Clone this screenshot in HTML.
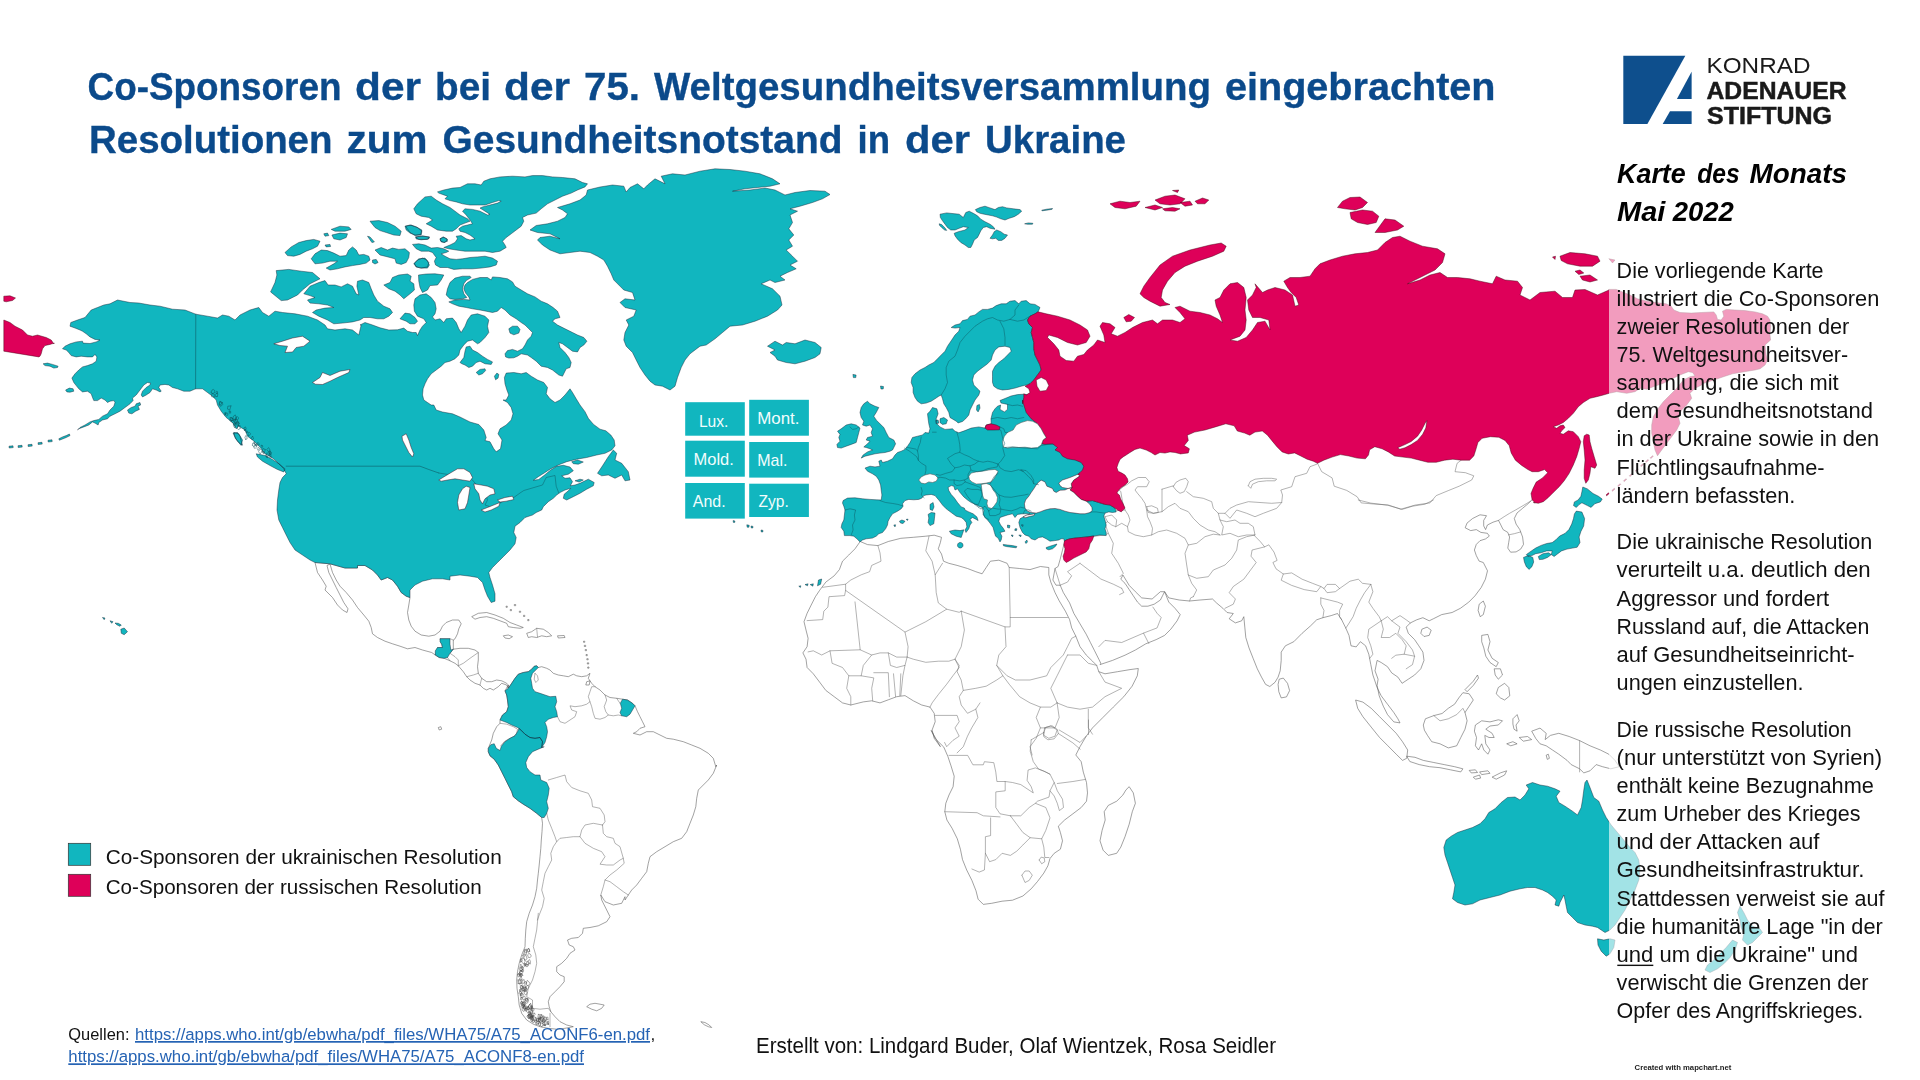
<!DOCTYPE html>
<html lang="de"><head><meta charset="utf-8"><title>Karte des Monats Mai 2022</title>
<style>
html,body{margin:0;padding:0;background:#fff;}
body{width:1920px;height:1080px;overflow:hidden;font-family:"Liberation Sans",sans-serif;}
svg{display:block;position:absolute;left:0;top:0;}
text{font-family:"Liberation Sans",sans-serif;}
</style></head><body>
<svg width="1920" height="1080" viewBox="0 0 1920 1080">
<rect width="1920" height="1080" fill="#fff"/>
<g id="map">
<path d="M315,562.5 330,563.8 345,568 357.5,568 357.5,565.5 365,565.5 372.5,570 377.5,575 381.2,580 387.5,577.5 392.5,580 397.5,586.2 401.2,592.5 406.2,596.2 410,597.5 408.8,605 407.5,612.5 408.8,620 411.2,626.2 415,631.2 421.2,635 428.8,636.2 435,635 440,631.2 442.5,626.2 446.2,622.5 452.5,620 458.8,620 461.2,623.8 458.8,628.8 457.5,633.8 455,638.8 453.3,640 453.3,649.2 460,648.3 468.3,648.3 475,650 478.3,652.5 478.3,660 477.5,666.7 478.3,673.3 481.7,678.3 486.7,681.7 491.7,681.7 496.7,680 501.7,680.8 506.7,683.3 508.3,685 508.3,688.3 506.7,685 501.7,683.3 498.3,686.7 493.3,690 490,688.3 486.7,690 483.3,688.3 480,685 475,683.3 470,680 466.7,676.7 463.3,671.7 458.3,665.8 455,663.3 450,660.8 444.2,658.3 439.2,657.5 435.3,655 431.7,652.5 422.5,650 415,647.5 407.5,648.8 400,646.2 392.5,643.8 385,641.2 377.5,637.5 372.5,633.8 371.2,627.5 368.8,621.2 363.8,615 357.5,607.5 352.5,600 346.2,592.5 340,586.2 336.2,580 332.5,572.5 330,564 327,565.5 328.8,572.5 332.5,580 336.2,587.5 340,595 343.8,602.5 348,608.8 347,612.5 342.5,610 337.5,605 332.5,597.5 325,590 326.2,586.2 322.5,580 317.5,572.5ZM471.7,616.7 478.3,613.3 486.7,612.5 495,615 503.3,618.3 510,622.5 516.7,625 523.3,627.5 520,628.3 513.3,627.5 508.3,626.7 506.7,623.3 500,620.8 493.3,618.3 486.7,616.7 480,617.5 475,619.2ZM526.7,633.3 531.7,631.7 536.7,628.3 543.3,629.2 548.3,632.5 551.7,635.8 546.7,636.7 541.7,635.8 536.7,637.5 531.7,636.7 528.3,637.5ZM503.3,635.8 508.3,635 512.5,636.7 509.2,638.7 505,638ZM557.5,635.8 564.2,635.5 565,637.5 558.3,638ZM586.7,681.7 590,680.8 589.2,685 585.8,685ZM583.5,641.2 584.8,641.2 584.8,642.3 583.5,642.3ZM584.3,645.3 585.7,645.3 585.7,646.5 584.3,646.5ZM585.2,649.5 586.5,649.5 586.5,650.7 585.2,650.7ZM586,654.5 587.3,654.5 587.3,655.7 586,655.7ZM586.8,658.7 588.2,658.7 588.2,659.8 586.8,659.8ZM587.3,662.8 588.7,662.8 588.7,664 587.3,664ZM587.7,667 589,667 589,668.2 587.7,668.2ZM506,606.2 507.3,606.2 507.3,607.3 506,607.3ZM510.2,609.5 511.5,609.5 511.5,610.7 510.2,610.7ZM514.3,604.5 515.7,604.5 515.7,605.7 514.3,605.7ZM519.3,611.2 520.7,611.2 520.7,612.3 519.3,612.3ZM523.5,615.3 524.8,615.3 524.8,616.5 523.5,616.5ZM527.7,619.5 529,619.5 529,620.7 527.7,620.7ZM508.3,685 508.3,688.3 511.7,683.3 515,678.3 518.3,674.2 523.3,672.5 528.3,671.7 531.7,669.2 534.2,666.3 536.7,665.8 538.3,667.5 541.7,666.7 546.7,668.3 550,670 553.3,673.3 558.3,675 563.3,675.8 568.3,676.7 573.3,674.2 576.7,675.8 581.7,676.7 586.7,675.8 590,673.3 588.3,678.3 591.7,683.3 595,686.7 600,690 605,695 610,697.5 616.7,698.3 622.5,699.2 627.5,700 632.5,703.3 635,705.8 637.5,711.7 640,716.7 642.5,721.7 645,726.7 640,728.3 636.7,731.7 633.3,733.3 640,735 646.7,731.7 653.3,731.7 660,735 666.7,738.3 673.3,739.2 683.3,741.7 691.7,745 700,748.3 708.3,753.3 713.3,758.3 715.8,766.7 716.7,765 713.3,773.3 708.3,780 703.3,785 698.3,790 696.7,798.3 695.8,806.7 693.3,815 690,823.3 686.7,831.7 681.7,838.3 673.3,841.7 665,846.7 656.7,851.7 650,856.7 648.3,863.3 646.7,871.7 641.7,878.3 636.7,885 631.7,890 628.3,895 625,900 625,896.7 621.7,903.3 613.3,905 605,901.7 600.8,895 601.7,900 604.2,905 606.7,910 610,916.7 606.7,921.7 598.3,925.8 590,927.5 583.3,928.3 582.5,933.3 578.3,937.5 571.7,938.3 567.5,940 569.2,945 573.3,946.7 575,950 570,953.3 566.7,958.3 561.7,963.3 556.7,966.7 556.7,971.7 560,975 564.2,976.7 564.2,981.7 560,986.7 555,991.7 550,996.7 548.3,1001.7 549.2,1006.7 550.8,1011.7 555,1016.7 560,1021.7 566.7,1025 573.3,1026.7 565,1028.3 556.7,1029.2 548.3,1028.3 540,1026.7 533.3,1024.2 526.7,1020 521.7,1013.3 519.2,1005 518.3,996.7 517,988.3 516.7,980 517.5,971.7 519.2,963.3 521.7,955 525,946.7 525.3,938.3 525.8,930 526.7,921.7 529.2,913.3 532.5,905 535,896.7 536.7,888.3 537.5,880 538.3,873.3 539.2,865 540,856.7 540.8,848.3 541.3,840 542,831.7 542.5,823.3 541.7,817.5 536.7,813.3 530,808.3 523.3,804.2 518.3,800.8 513.3,796.7 511.7,791.7 508.3,785 505,778.3 501.7,771.7 498.3,765 494.2,759.2 490,755.8 488.3,751.7 488.3,748.3 491.7,740 493.3,733.3 496.7,726.7 500,723.3 500,720 502.5,715 506.7,711.7 508.3,706.7 507.5,700 506.7,695 505,690.8ZM586.7,1006.7 590,1004.2 595,1003.3 600,1004.2 604.2,1005 601.7,1008.3 596.7,1010.8 591.7,1009.2ZM700.8,1021.7 705,1022.5 709.2,1025 711.7,1027.5 708.3,1026.7 704.2,1024.7ZM438.3,727.5 440.8,726.7 441.7,729.2 439.2,730ZM860.2,541.5 867.5,544.6 877.9,545.6 888.3,541.5 900.8,538.3 913.3,537.3 925.8,536.2 934.2,535.2 941.5,537.3 940.4,542.5 938.3,548.8 941.5,554 943.5,561.2 948.8,563.3 957.1,565.4 967.5,568.5 975.8,571.7 982.1,573.8 986.2,567.5 990.4,561.2 998.8,560.2 1007.1,563.3 1009.2,567.5 1019.6,568.5 1030,569.6 1040.4,566.5 1048.8,567.5 1048.8,574.8 1050.8,582.1 1055,592.5 1059.2,600.8 1065.4,611.2 1069.6,619.6 1071.7,627.9 1075.8,636.2 1080,646.7 1086.2,655 1092.5,661.2 1096.7,665.4 1098.8,671.7 1105,673.8 1117.5,671.7 1130,669.6 1138.3,668.5 1137.3,675.8 1132.1,686.2 1123.8,696.7 1113.3,707.1 1102.9,717.5 1092.5,727.9 1086.2,736.2 1080,746.7 1075.8,755 1081.2,761.7 1083.3,772.1 1086.5,782.5 1087.5,792.9 1086.5,801.2 1081.2,807.5 1072.9,813.8 1064.6,820 1058.3,826.2 1060.4,832.5 1062.5,840.8 1060.4,849.2 1054.2,853.3 1050,858.5 1047.9,865.8 1043.8,873.1 1037.5,881.5 1031.2,888.8 1022.9,896 1012.5,900.2 1002.1,901.2 991.7,903.3 983.3,904.4 978.1,899.2 976,890.8 971.9,880.4 966.7,870 962.5,859.6 960.4,849.2 957.3,838.8 952.1,828.3 946.9,820 944.8,811.7 945.8,803.3 949,795 953.1,786.7 954.2,776.2 951,765.8 947.9,756.5 943.8,747.1 935.4,738.8 931.2,730.4 940.4,746.7 934.2,738.3 932.1,730 935.2,721.7 934.2,713.3 930,707.1 921.7,705 913.3,700.8 905,695.6 896.7,696.7 888.3,699.8 880,702.9 871.7,700.8 863.3,701.9 850.8,705 842.5,702.9 834.2,696.7 825.8,690.4 819.6,682.1 813.3,673.8 807.1,667.5 806,659.2 802.9,652.9 807.1,646.7 808.1,638.3 806,630 804,621.7 807.1,613.3 811.2,605 815.4,596.7 819.6,590.4 825.8,582.1 834.2,575.8 839.4,569.6 842.5,561.2 848.8,555 855,548.8ZM1129.2,786.7 1133.3,792.9 1135.4,803.3 1132.3,811.7 1129.2,824.2 1125,836.7 1120.8,847.1 1116.7,853.3 1108.3,855.4 1103.1,850.2 1100,840.8 1102.1,830.4 1105.2,820 1104.2,811.7 1108.3,805.4 1116.7,801.2 1122.9,795 1126,789.8ZM1064.4,532.1 1065.4,536.2 1064.4,542.5 1062.3,550.8 1060.2,559.2 1058.1,566.5 1055,568.5 1052.9,580 1056,585.2 1060.2,585.2 1063.3,592.5 1069.6,602.9 1073.8,613.3 1080,623.8 1086.2,634.2 1090.4,642.5 1094.6,650.8 1098.8,659.2 1100.8,663.3 1100,664.6 1112.5,660.4 1125,655.2 1135.4,650 1145.8,643.8 1156.2,639.6 1164.6,635.4 1170.8,629.2 1177.1,620.8 1180.2,614.6 1175,608.3 1168.8,602.1 1164.6,591.7 1162.5,595.8 1160.4,600 1154.2,604.2 1147.9,606.2 1141.7,606.2 1137.5,602.1 1133.3,595.8 1129.2,589.6 1125,583.3 1120.8,579.2 1122.9,575 1129.2,585.4 1135.4,591.7 1141.7,597.9 1152.1,599 1160.4,591.7 1164.6,591.7 1168.8,597.9 1179.2,600 1189.6,601 1200,600 1212.5,599 1216.7,603.1 1222.9,608.3 1227.1,612.5 1233.3,613.5 1229.2,618.8 1235.4,622.9 1241.7,620.8 1243.8,616.7 1244.8,627.1 1245.8,637.5 1249,647.9 1253.1,658.3 1257.3,668.8 1261.5,677.1 1265.6,684.4 1269.8,686.5 1275,682.3 1278.1,677.1 1280.2,670.8 1281.2,660.4 1281.2,652.1 1285.4,645.8 1293.8,641.7 1302.1,633.3 1310.4,626 1316.7,619.8 1322.9,617.7 1331.2,615.6 1337.5,613.5 1341.7,619.8 1345.8,628.1 1349,635.4 1351,645.8 1356.2,646.9 1360.4,641.7 1365.6,645.8 1368.8,654.2 1370.8,664.6 1372.9,675 1377.1,687.5 1381.2,695.8 1387.5,704.2 1393.8,712.5 1397.9,718.8 1400,722.9 1393.8,721.9 1387.5,714.6 1383.3,706.2 1379.2,695.8 1377.1,685.4 1378.1,679.2 1375,670.8 1377.1,660.4 1381.2,662.5 1387.5,666.7 1391.7,672.9 1397.9,677.1 1402.1,683.3 1408.3,679.2 1414.6,675 1420.8,668.8 1424,660.4 1422.9,652.1 1418.8,645.8 1414.6,639.6 1408.3,633.3 1406.2,627.1 1410.4,622.9 1416.7,619.8 1422.9,617.7 1429.2,620.8 1433.3,618.8 1441.7,614.6 1452.1,612.5 1460.4,608.3 1468.8,602.1 1475,595.8 1481.2,587.5 1485.4,579.2 1487.5,570.8 1483.3,562.5 1479.1,561.1 1476.3,555.6 1474.4,550 1476.3,544.4 1480,540.7 1485.6,538.9 1489.3,536.1 1487.4,533.3 1480.9,532.4 1476.3,529.6 1470.7,530.6 1465.2,527.8 1467,523.1 1472.6,518.5 1480,514.8 1486.5,515.7 1483.7,520.4 1483.7,525.9 1485.6,529.6 1487.4,525 1493,522.2 1498.5,520.4 1500.4,524.1 1503.1,529.6 1507.8,532.4 1509.6,537 1508.7,542.6 1507.8,548.1 1510.6,552.2 1516.1,551.9 1520.7,549.1 1523.5,544.4 1522.6,537 1519.8,529.6 1516.1,524.1 1514.3,518.5 1517,513 1522.6,508.3 1528.1,503.7 1531.9,500 1540,495 1552,470 1540,455 1515,440 1500,425 1300,395 1150,400 1095,465 1092,492 1075,520ZM1279.2,679.2 1283.3,678.1 1287.5,683.3 1289.6,690.6 1286.5,696.9 1281.2,697.9 1278.8,691.7 1278.1,684.4ZM1421.9,629.2 1427.1,627.1 1431.2,630.2 1429.2,635.4 1424,636.5 1420.8,633.3ZM1479.2,604.2 1483.3,601 1485.4,606.2 1483.3,614.6 1480.2,616.7 1478.1,610.4ZM1355.6,700 1362.9,702.1 1371.2,708.3 1379.6,716.7 1387.9,725 1396.2,733.3 1402.5,741.7 1407.7,750 1406.7,758.3 1402.5,760.4 1396.2,754.2 1387.9,745.8 1379.6,737.5 1371.2,727.1 1362.9,716.7 1357.7,708.3ZM1423.3,725 1425.4,718.8 1433.8,715.6 1442.1,713.5 1448.3,708.3 1454.6,704.2 1458.8,697.9 1462.9,692.7 1469.2,693.8 1473.3,700 1469.2,706.2 1465,712.5 1467.1,720.8 1465,729.2 1460.8,737.5 1456.7,745.8 1448.3,747.9 1440,743.8 1431.7,741.7 1427.5,735.4 1424.4,730.2ZM1406.7,756.2 1415,757.3 1423.3,760.4 1433.8,762.5 1444.2,764.6 1454.6,766.7 1462.9,768.8 1460.8,771.9 1450.4,769.8 1440,767.7 1429.6,766.7 1419.2,764.6 1409.8,761.5ZM1469.2,770.4 1475.4,769.8 1477.5,772.5 1471.2,772.9ZM1479.6,771.9 1487.9,770.8 1490,773.3 1481.7,774.6ZM1473.3,777.1 1479.6,775 1480.6,778.1 1475.4,779.2ZM1492.1,777.1 1500.4,772.9 1506.7,770.8 1504.6,775 1496.2,779.2ZM1512.9,718.8 1517.1,714.6 1519.2,720.8 1516,725 1517.1,731.2 1514,729.2 1512.9,724ZM1494.2,668.8 1500.4,668.8 1502.5,675 1498.3,679.2 1495.2,675ZM1465,689.6 1473.3,681.2 1477.5,675 1478.5,678.1 1473.3,685.4 1467.1,691.7ZM1519.2,737.5 1527.5,736.5 1531.7,739.6 1523.3,741.2ZM1506.7,743.8 1512.9,741.7 1517.1,743.8 1510.8,745.8ZM1546.2,755.2 1548.3,754.2 1549.4,758.3 1547.3,759.4ZM1475.4,725 1481.7,720.8 1490,721.9 1498.3,719.8 1502.5,720.8 1498.3,725 1490,726 1485.8,729.2 1492.1,733.3 1494.2,737.5 1489,737.5 1484.8,735.4 1485.8,743.8 1490,750 1487.9,754.2 1483.8,750 1481.7,743.8 1478.5,750 1475.4,745.8 1476.5,737.5 1474.4,731.2ZM1531.7,731.2 1540,728.1 1546.2,733.3 1545.2,739.6 1550.4,735.4 1558.8,733.3 1569.2,736.5 1579.6,740.6 1590,745.8 1600.4,750 1608.8,754.2 1615,760.4 1619.2,766.7 1610.8,768.8 1602.5,766.7 1596.2,764.6 1590,770.8 1583.8,772.9 1579.6,768.8 1571.2,764.6 1567.1,760.4 1558.8,754.2 1552.5,750 1546.2,745.8 1540,743.8 1535.8,738.5ZM1481.7,635.4 1487.9,634.4 1490,641.7 1487.9,650 1492.1,658.3 1498.3,662.5 1496.2,666.7 1490,662.5 1485.8,656.2 1483.8,647.9 1481.7,641.7ZM1498.3,687.5 1504.6,683.3 1508.8,687.5 1509.8,695.8 1504.6,700 1500.4,697.9 1496.2,693.8Z" fill="#fff" stroke="#555" stroke-width="0.55" stroke-linejoin="round"/>
<path d="M435.3,655 437.5,647.5 442.5,647.5 440,638.7 450,638.7 453.3,640M453.3,649.2 450,653.3 455,656.7 458.3,660 458.3,665.8M447.5,657.5 450,660.8M458.3,665.8 463.3,663.3 470,658.3 478.3,652.5M466.7,676.7 473.3,675 478.3,673.3M480,685 481.7,678.3M536.7,628.3 537.5,637M557.5,716.7 560,721.7 565,723.3 570,720 575,716.7 576.7,711.7 571.7,710 570,705.8 575,706.7 581.7,705.8 586.7,704.2 590,701.7 588.3,696.7 590,691.7 591.7,686.7 595,686.7M590,701.7 591.7,706.7 593.3,713.3 595,718.3 600,719.2 605,717.5 608.3,715 613.3,715.8 618.3,715 621.7,715.8M605,695 606.7,700 604.2,706.7 605.8,711.7 608.3,715M616.7,698.3 620,703.3M500,723.3 506.7,724.2 513.3,726.7 517.5,729.2 516.7,733.3 513.3,736.7 508.3,739.2 504.2,741.7 500.8,745.8M535,673.3 537.5,675.8 538.3,680 535.8,682.5 534.2,679.2 535,673.3M546.7,813.3 548.3,820 551.7,828.3 555,836.7 556.7,841.7 553.3,846.7 550.8,853.3 551.7,860 548.3,866.7 545,873.3 543.3,881.7 541.7,890 544.2,898.3 542.5,906.7 539.2,915 537.5,920M538.3,913.3 537.5,921.7 536.7,930 535,938.3 533.3,946.7 535.8,955 536.7,963.3 535,971.7 532.5,980 528.3,988.3 526.7,996.7 532.5,1000 532.5,1008.3 540,1009.2 548.3,1008.3 550.8,1011.7M550,1013.3 550,1026.7M548.3,780 556.7,777.5 565,775 566.7,781.7 571.7,787.5 580,790.8 588.3,793.3 591.7,800 592.5,806.7 600,808.3 604.2,815 605,821.7 602.5,825M556.7,841.7 560,838.3 566.7,837.5 573.3,836.7 580,836.7 581.7,830 585,825 593.3,823.3 602.5,825M580,836.7 585,843.3 593.3,848.3 601.7,851.7 605,856.7 600,864.2 606.7,865 613.3,865 620,860 623.3,858.3 620,846.7 615,843.3 613.3,838.3 606.7,836.7 603.3,833.3 602.5,825M623.3,858.3 624.2,863.3 616.7,870 610,875 605,880 603.3,886.7 600.8,895M605,880 610,881.7 616.7,886.7 623.3,891.7 628.3,895M877.9,545.6 880,552.9 881,561.2 871.7,565.4 869.6,571.7 861.2,574.8 850.8,580 845.6,584.2 845.6,590.4 905,632.1 909.2,630 925.8,621.7 946.7,609.2 959.2,612.3 961.2,611.2M845.6,584.2 822.7,587.3M845.6,590.4 844.6,595.6 829,596.7 827.9,607.1 823.8,611.2 822.7,619.6 807.1,620.6M855,601.9 860.2,649.8 830,650.8 821.7,655 813.3,650.8 808.1,651.9M935.2,574.8 936.2,592.5 938.3,602.9 946.7,609.2M929,536.2 925.8,550.8 932.1,561.2 935.2,574.8 942.5,563.3M1009.2,567.5 1010.2,617.5 1067.5,617.5M1010.2,617.5 1010.2,626.9 1005,626.9 961.2,611.2M1005,626.9 1006,646.7 998.8,655 996.7,665.4 1002.9,675.8 996.7,680 986.2,686.2 975.8,688.3 963.3,690.4 961.2,680 957.1,671.7 959.2,665.4 955,659.2 961.2,646.7 964.4,630 961.2,611.2M905,632.1 908.1,646.7 907.1,657.1 913.3,659.2 925.8,662.3 938.3,661.2 948.8,661.2 955,659.2M860.2,649.8 871.7,655 880,652.9 888.3,652.9 896.7,657.1 907.1,657.1M830,650.8 832.1,663.3 842.5,667.5 848.8,675.8 861.2,675.8 863.3,665.4 871.7,655M848.8,675.8 846.7,688.3 850.8,696.7 850.8,705M861.2,675.8 873.8,677.9 871.7,688.3 872.7,700.8M873.8,672.7 888.3,672.7 889.4,696.7M893.5,673.8 895.6,696.7M900.8,673.8 899.8,695.6M888.3,652.9 890.4,665.4 896.7,667.5 905,665.4 907.1,657.1M905,665.4 902.9,675.8 900.8,695.6M955,659.2 959.2,667.5 952.9,675.8 946.7,684.2 938.3,694.6 932.1,702.9 930,707.1M963.3,690.4 959.2,696.7 961.2,705 967.5,713.3 975.8,709.2 980,702.9M935.2,715.4 957.1,715.4 959.2,721.7 955,727.9 959.2,736.2 952.9,740.4 946.7,746.7 944.6,742.5M975.8,709.2 977.9,717.5 971.7,727.9 967.5,736.2 963.3,746.7 957.1,752.9M1002.9,675.8 1009.2,684.2 1019.6,696.7 1030,702.9 1040.4,707.1 1050.8,707.1 1057.1,702.9M996.7,665.4 1007.1,675.8 1015.4,680 1030,680 1046.7,675.8 1050.8,667.5 1063.3,655 1067.5,646.7 1071.7,638.3 1075.8,636.2M1067.5,655 1080,655 1088.3,663.3 1096.7,665.4M1057.1,702.9 1050.8,688.3 1057.1,675.8 1067.5,655M1057.1,702.9 1067.5,707.1 1080,709.2 1092.5,707.1 1105,696.7 1121.7,688.3 1105,682.1 1098.8,671.7M1088.3,709.2 1088.3,727.9 1092.5,734.2M1057.1,702.9 1059.2,717.5 1055,727.9 1040.4,727.9M1040.4,707.1 1036.2,717.5 1040.4,727.9 1036.2,738.3 1030,746.7 1032.1,755M1044.6,727.9 1050.8,725.8 1057.1,730 1055,736.2 1048.8,738.3 1043.5,735.2 1044.6,727.9M1059.2,730 1080,742.5 1086.2,736.2M949,755.4 967.7,755.4 972.9,764.8 983.3,764.8 984.4,761.7 993.8,762.7 995.8,772.1 996.9,781.5 1005.2,781.5 1005.2,790.8 995.8,791.9 995.8,807.5 1000,813.8 1010.4,815.8M944.8,811.7 977.1,812.7 983.3,815.8 1000,816.9M990.6,817.9 990.6,835.6 985.4,836.7 985.4,853.3 984.4,870 979.2,872.1 971.9,869M1010.4,815.8 1016.7,824.2 1022.9,832.5 1030.2,837.7 1022.9,845 1016.7,851.2 1010.4,855.4 1002.1,853.3 995.8,859.6 989.6,861.7 985.4,853.3M1010.4,815.8 1020.8,815.8 1029.2,807.5 1035.4,803.3 1045.8,807.5 1050,817.9 1045.8,830.4 1041.7,838.8 1030.2,837.7M1005.2,781.5 1012.5,782.5 1020.8,784.6 1027.1,788.8 1033.3,792.9 1031.2,786.7 1027.1,780.4 1028.1,770 1035.4,767.9 1043.8,771 1050,774.2 1054.2,782.5 1050,790.8 1049,797.1 1037.5,801.2 1035.4,803.3M1057.3,783.5 1072.9,781.5 1085.4,779.4M1054.2,782.5 1057.3,790.8 1062.5,799.2 1063.5,807.5 1059.4,810.6 1057.3,803.3 1054.2,796 1050,790.8M1041.7,838.8 1043.8,847.1 1044.8,857.5 1049,857.5M1021.9,875.2 1025,871 1029.2,871 1032.3,875.2 1029.2,880.4 1025,882.5 1021.9,875.2M1039.2,860 1041.2,857.1 1044.2,857.9 1044.8,861.7 1041.7,863.8 1039.2,860M1031.2,739.8 1043.8,732.5M1058.3,733.5 1072.9,742.9 1080.2,749.2M1031.2,739.8 1030.2,751.2 1033.3,761.7 1038.5,769 1045.8,772.1 1050,774.2M1088.5,720 1088.5,734.6M1043.8,732.5 1045.8,727.3 1052.1,725.8 1057.3,729.4 1058.3,733.5 1054.2,738.8 1047.9,739.8 1043.8,736.7 1043.8,732.5M1119.2,490 1123.3,486.7 1127.5,484.2 1131.7,480.8 1138.3,477.5 1145.8,477.5 1149.2,481.7 1146.7,486.7 1137.5,486.7 1135,490 1137.5,493.3 1141.7,498.3 1145,503.3 1146.7,510 1147.5,516.7 1150,521.7 1152.5,528.3 1151.7,535 1143.3,536.7 1135,535 1128.3,531.7 1127.5,526.7 1130,520 1128.3,515 1125,510 1122.5,501.7 1120.8,491.7 1119.2,490M1146.7,506.7 1151.7,505.8 1157.5,508.3 1158.3,512.5 1153.3,513.3 1148.3,512.5 1146.7,506.7M1248.3,485.8 1250,481.7 1255,479.2 1263.3,478.3 1271.7,478.3 1276.7,479.2 1275,480.8 1266.7,480.8 1258.3,481.7 1252.5,484.2 1250.8,488.3 1248.3,485.8M1173.3,486.7 1175.8,482.5 1180,480 1185.8,478.3 1188.3,481.7 1186.7,486.7 1184.2,491.7 1180,493.3 1176.7,490.8 1173.3,486.7M1162,489.2 1162,511.7M1162,489.2 1173.3,485.8M1186.7,491.7 1193.3,496.7 1203.3,498.3 1211.7,501.7 1213.3,508.3 1218.3,513.3 1225,513.3 1230,508.3 1236.7,505 1248.3,501.7 1260,502.5 1271.7,503.3 1281.7,502.5 1282.5,495 1280.8,490 1291.7,486.7 1295,476.7 1306.7,473.3 1310,466.7 1316.7,464.2M1146.7,510 1153.3,513.3 1162,511.7 1168.3,506.7 1175,503.3 1180,508.3 1188.3,511.7 1193.3,518.3 1200,525 1208.3,530 1215,531.7 1220,535M1151.7,535 1158.3,531.7 1166.7,530 1176.7,533.3 1185,538.3 1188.3,545 1196.7,543.3 1205,536.7 1213.3,534.2 1220,535M1225,513.3 1230,518.3 1236.7,510 1246.7,513.3 1255,516.7 1263.3,513.3 1276.7,508.3 1281.7,502.5M1220,520 1223.3,526.7 1221.7,535 1230,533.3 1238.3,536.7 1246.7,535 1255,535 1253.3,526.7 1248.3,523.3 1240,523.3 1235,520 1226.7,521.7 1220,520 1218.3,513.3M1188.3,545 1185,553.3 1186.7,565 1188.3,575 1196.7,578.3 1208.3,576.7 1213.3,570 1225,565 1231.7,558.3 1236.7,550 1238.3,540 1246.7,536.7 1255,535M1105,523.3 1108.3,533.3 1113.3,543.3 1111.7,553.3 1118.3,563.3 1123.3,573.3 1120,576.7M1188.3,575 1191.7,583.3 1196.7,590 1193.3,596.7M1105,516.7 1111.7,515 1116.7,520 1115.8,526.7 1111.7,525 1107.5,521.7 1105,516.7M1115.8,510.8 1125,510M1115.8,526.7 1121.7,523.3 1127.5,526.7M1090,536.7 1105,535 1108.3,533.3M1105,523.3 1107.5,521.7M1433.8,715.6 1440,720.8 1448.3,718.8 1456.7,714.6 1462.9,708.3 1465,712.5M1579.6,740.6 1579.6,771.9M1193.3,596.7 1190.6,597.9 1189.6,601M1254.2,535.4 1260.4,541.7 1264.6,546.9 1252.1,550 1251,556.2 1256.2,562.5 1250,570.8 1243.8,579.2 1233.3,586.5 1229.2,592.7 1235.4,599 1233.3,604.2 1225,608.3M1264.6,546.9 1268.8,544.8 1274,552.1 1277.1,560.4 1272.9,562.5 1276,568.8 1283.3,574 1291.7,572.9 1302.1,579.2 1312.5,583.3 1320.8,586.5 1324,588.5 1327.1,584.4 1335.4,584.4 1339.6,588.5 1350,581.2 1358.3,579.2 1362.5,583.3 1370.8,584.4M1283.3,574 1281.2,580.2 1291.7,585.4 1304.2,589.6 1316.7,591.7 1320.8,586.5M1324,588.5 1327.1,592.7 1335.4,591.7 1339.6,588.5M1370.8,584.4 1364.6,592.7 1360.4,600 1356.2,608.3 1353.1,616.7 1347.9,625 1345.8,628.1M1320.8,597.9 1320.8,604.2 1324,610.4 1322.9,617.7M1320.8,597.9 1329.2,600 1337.5,602.1 1342.7,604.2 1339.6,610.4 1339.6,616.7 1341.7,619.8M1370.8,584.4 1372.9,591.7 1368.8,602.1 1372.9,608.3 1379.2,616.7 1381.2,620.8 1375,625 1368.8,629.2 1367.7,637.5 1370.8,645.8 1372.9,654.2 1369.8,658.3M1381.2,620.8 1387.5,616.7 1391.7,620.8 1400,615.6 1406.2,619.8 1410.4,622.9M1391.7,620.8 1400,627.1 1397.9,633.3 1406.2,641.7 1412.5,650 1414.6,656.2M1381.2,620.8 1383.3,629.2 1381.2,637.5 1389.6,637.5 1395.8,633.3 1402.1,639.6 1406.2,645.8 1404.2,654.2M1391.7,658.3 1395.8,655.2 1404.2,654.2 1414.6,656.2 1412.5,664.6 1406.2,668.8M1358.3,500 1370.8,503.1 1387.5,505.2 1402.1,509.4 1412.5,506.2 1425,504.2 1433.3,500M1080,563.3 1100.8,579 1113.3,584.2 1121.7,588.3M1060.2,585.2 1067.5,582.1 1071.7,575.8 1067.5,571.7 1080,563.3M1055,568.5 1060.2,585.2M1098.8,646.7 1105,640.4 1121.7,642.5 1143.5,633.1 1148.8,643.5M1143.5,633.1 1157.1,627.9 1161.2,617.5 1157.1,613.3 1152.9,607.1M1121.7,588.3 1123.8,592.5 1119.6,594.6M1317.5,463.3 1321.7,471.7 1332.1,477.9 1334.2,486.2 1346.7,490.4 1357.1,496.7 1361.2,502.9 1373.8,504 1388.3,505 1400.8,509.2 1415.4,505 1430,502.9 1436.2,495.6 1448.8,490.4 1459.2,486.2 1471.7,480 1473.8,475.8 1465.4,472.7 1455,471.7 1457.1,463.3 1461.2,460.2M1498.5,520.4 1504.1,516.7 1509.6,513.3 1515.2,510.2 1520.7,507 1526.3,503.7 1530.9,500.9M1508.7,534.8 1514.3,533.7 1520.7,531.9" fill="none" stroke="#666" stroke-width="0.5" stroke-linejoin="round" stroke-linecap="round"/>
<path d="M195.8,314.2 207.5,316.2 217.5,318 222.5,315 228.8,316.2 235,320 240,315 250,310 258.8,307.5 262.5,312.5 268.8,316.2 275,311.2 282.5,312.5 295,313.8 307.5,316.2 317.5,320 325,325 327.5,328.8 335,330 345,328.8 352.5,330 358.8,335 361.2,325 360,325 365,322.5 372.5,325 380,327.8 388.8,330 397.5,329.8 403.8,328.1 407.5,331.2 412.5,332.5 416.2,332.5 417.5,335.6 420,330 422.5,326.2 426.2,322.5 423.8,318.8 417.5,316.2 414.4,311.2 413.8,305 415,298.8 420,295 426.2,293.8 431.2,297.5 435,302.5 436.2,308.8 435,313.8 432.5,316.9 435,320 440,318.8 443.8,322.5 446.2,318.8 452.5,318.1 456.2,322.5 458.8,328.8 461.2,332.5 465,326.2 467.5,320 471.2,315 477.5,313.8 485,316.2 488.8,320 487.5,326.2 488.8,332.5 485,337.5 480,342.5 477.5,343.8 472.5,340 467.5,341.2 463.8,345 460,350 458.8,355 455,358.8 450,361.2 445,362.5 441.2,366.2 436.2,370 431.2,373.8 427.5,378.8 425,383.8 423.1,388.8 422.5,395 423.8,400 427.5,402.5 431.2,405 433.8,405 436.2,410 442.5,412 452.5,413.8 460,417 470,422 478.8,424.5 483.8,430 486.2,437.5 485,440.5 490,441.8 493.8,448.8 496.2,451.8 500.5,448.8 502,440 498,433.8 500,428.8 506.2,425 511.2,420 513,413.8 511.2,407.5 507.5,402.5 503,400 506.2,400 508.8,395 506.9,390 505,383.8 504.4,377.5 506.2,373.1 513.8,372.5 521.2,373.8 526.2,372.5 531.2,376.2 537.5,380 543.8,382.5 547.5,387.5 546.2,393.8 550,398.8 555,402.5 560,400 565,395 570,388.8 572.5,392.5 576.2,398.8 580,405 585,411.7 588.3,418.3 593.3,424.2 600,429.2 605.8,430.8 610.8,435 614.2,440 615,445.8 611.7,450 605,453.3 596.7,455 586.7,457.5 576.7,459.2 566.7,461.7 558.3,465 550,469.2 545,472.5 538.3,476.7 533.3,480.3 538.7,479.5 545,474.7 550,470.5 556.7,466.3 563.3,465.3 570,467 573.3,470.8 568.3,474.2 561.7,475.8 565,478.3 570,477.8 572.5,481.7 570.3,485.8 575,485 580,483.3 588.3,479.2 594.2,482.5 593.3,485.8 586.7,489.2 580,493.3 573.3,496.7 566.7,500 563.3,498.3 564.2,494.2 568.3,490.8 570.8,488.3 565,490 560,492.5 556.7,495 553.3,498.3 548.3,501.7 543.3,506.7 541.7,510 536.2,512.5 532.5,515 525,517.5 520,522.5 515,526.2 513.8,532.5 516.2,537.5 515,543.8 510,550 503.8,556.2 497.5,562.5 492.5,567.5 488.8,572.5 490,577.5 492.5,585 495,593.8 495,601.2 491.2,602.5 487.5,596.2 485,590 482.5,582.5 477.5,577.5 470,576.2 460,575 450,576.2 450,580 442.5,578.8 432.5,578.8 422.5,581.2 415,585 410,590 410,597.5 406.2,596.2 401.2,592.5 397.5,586.2 392.5,580 387.5,577.5 381.2,580 377.5,575 372.5,570 365,565.5 357.5,565.5 357.5,568 345,568 330,563.8 315,562.5 310,560 302.5,555 295,550 290,542.5 286.2,535 282.5,527.5 278.8,520 277,510 277.5,500 278.8,490 280,482.5 282.5,477.5 286.2,473.8 283.8,468.8 280,465 275,460 270,456.2 265,453.8 261.2,448.8 258.1,445 252.5,440 247.5,436.2 245,430 238.8,426.2 236.2,428.8 232.5,422.5 226.2,417.5 221.2,411.2 217.5,405 216.2,400 212.5,396.2 207.5,392.5 202.5,388.8 195.6,388.8 190,391.2 183.8,391.2 177.5,388.8 172.5,387.5 168.8,385 165,384.4 160,385 158.8,387.5 161.2,391.2 160,391.9 156.2,390 152.5,388.8 150,392.5 146.2,395 142.5,396.9 141.2,395 142.5,391.2 146.2,387.5 150,385 150.6,383.1 147.5,382.5 143.8,385 140,390 136.2,395 132.5,398.1 133.1,400.6 130,403.8 125,407.5 120,411.2 115,413.8 110,416.2 107.5,418.8 102.5,420 98.8,422.5 98.1,425 95,423.1 92.5,421.9 88.8,425 83.8,426.9 78.8,428.8 77.5,430 80,427.5 85,425 90,421.9 93.8,420.6 98.8,419.4 102.5,416.2 107.5,413.8 110,410 113.8,406.2 115,402.5 113.8,400.6 110,401.2 107.5,402.5 105,400 101.2,398.1 97.5,400.6 93.8,400.6 92.5,397.5 91.2,393.8 87.5,391.2 82.5,391.9 78.8,388.8 76.2,385.6 73.8,382.5 71.9,378.1 75,373.8 78.8,370 82.5,366.9 87.5,365.6 92.5,363.8 96.2,361.2 96.9,356.9 95,354.4 92.5,356.9 87.5,356.9 81.2,356.2 76.2,356.9 71.2,355.6 68.8,352.5 66.2,350 62.5,348.8 65,346.2 70,343.8 76.2,341.9 82.5,341.2 83.1,343.1 90,343.5 96.2,341.9 100,340 95,339.4 90,336.9 86.2,333.8 82.5,331.2 80,330 75,328 70,326.2 70.8,322.5 77.5,320 85,317.5 91.2,310 97.5,307.5 103.8,305 110,303.8 117.5,300 130,302.5 138.8,303 150,305 160,306.2 172.5,309.2 185,310ZM256.2,453.8 265,455.5 272.5,459.5 280,464.5 285,468.8 283.8,472 277.5,469.5 270,465.5 262.5,461.2 257.5,457ZM233.8,432.5 238.8,433.8 242.5,440 241.2,445.5 237.5,441.2 235,437ZM597.5,473.3 602.5,465.8 608.3,456.7 613.3,450 616.7,453.3 615,460 621.7,463.3 628.3,471.7 630,480 625,480.8 621.7,475 615,478.3 608.3,475 601.7,475.8ZM571.7,461.7 577.5,460 583.3,462 578.3,464.2 573.3,463.7ZM575,480.8 580,479.2 583.3,480 579.2,482ZM587.5,190 600,187 612.5,185 623.8,186.2 626.2,192 630,187.5 637.5,183.8 643.8,188.8 647.5,185 655,178.8 665,183.8 661.2,176.2 672.5,173.8 685,175 700,171.2 715,168.8 730,169.5 745,171.2 760,173.8 772.5,178.8 780,183.8 770,186.2 757.5,187.5 745,188.8 732.5,191.2 750,190 765,188 775,190 785,195 795,192.5 810,190.5 825,191.2 830,194.5 822.5,198.8 812.5,202.5 800,206.2 790,208.8 797.5,211.2 790,215 792.5,222.5 788.8,228.8 793.8,235 788.8,240 792.5,246.2 786.2,250 792.5,256.2 797.5,261.2 790,265 796.2,268.8 787.5,272.5 780,276.2 785,280 775,282.5 770,280 761.2,283.8 772.5,288.8 780,296.2 782,305 777.5,310 767.5,316.2 755,321.2 742.5,325 730,326.2 722.5,332.5 715,338.8 706.2,345 700,346.2 690,353.8 685,360 681.2,367.5 677.5,377.5 675,386.2 670,390 662.5,386.2 655,385 650,381.2 645,375 640,367.5 636.2,360 632.5,352.5 626.2,346.2 623.8,340 625,332.5 628.8,325 626.2,320 633.8,316.2 636.2,310 625,307.5 620,302.5 625,298.8 635,300 632.5,292.5 623.8,290 618.8,285 613.8,280 611.2,273.8 607.5,266.2 603.8,260 597.5,256.2 590,252.5 580,251.2 570,252.5 560,253.8 550,250 542.5,245 537.5,240 540,237.5 550,236.2 560,238.8 550,233.8 537.5,232.5 530,230 536.2,225.5 547.5,223.8 557.5,221.2 565,217.5 567.5,213.8 562.5,210 557.5,207.5 570,203.8 580,200 586.2,195ZM767.5,346.2 775,341.2 782.5,345 786.2,342.5 795,343.8 805,340 815,342.5 821.2,347.5 820,353.8 815,357.5 805,361.2 795,363.8 786.2,362.5 777.5,360 775,356.2 770,352.5 775,350ZM437.5,191.9 443.8,190 452.5,188.1 460,187.5 467.5,183.8 475,183.8 481.2,185 483.8,181.2 490,178.8 500,176.9 512.5,176.2 525,176.9 532.5,175.6 542.5,175.6 552.5,176.9 562.5,177.5 575,178.8 582.5,182.5 587.5,183.8 585,186.9 577.5,190 571.2,193.1 562.5,196.2 555,200 547.5,203.8 541.2,208.8 536.2,213.1 527.5,215 522.5,217.5 523.8,221.2 521.2,226.2 516.2,230 511.2,233.8 506.2,237.5 502.5,241.2 505,245 506.2,247.5 500,251.2 492.5,252.5 485,251.2 475,251.2 465,251.2 456.2,250 448.8,248.8 443.8,247.5 450,245 455,242.5 457.5,238.8 456.2,236.2 461.2,235.6 466.2,238.8 470,240 475,238.8 470,235 465,232.5 460,231.2 458.8,228.8 462.5,226.2 467.5,225 472.5,223.8 470,220 466.2,215 462.5,211.2 465,208.8 472.5,209.4 480,211.2 487.5,215 490,214.4 485,211.2 480,208.1 482.5,206.9 490,205 497.5,203.1 501.2,201.2 498.8,200.6 492.5,202.5 485,205 477.5,205 470,205 462.5,203.8 456.2,201.9 450,200.6 445,198.8 447.5,196.2 442.5,194.4 438.8,193.1ZM413.8,208.8 417.5,203.8 425,196.9 431.2,196.2 436.2,200 442.5,203.8 450,207.5 455,211.2 460,215 467.5,218.8 470,221.2 465,223.1 460,225 456.2,228.8 452.5,231.2 446.2,231.2 437.5,230 431.2,226.2 426.2,223.8 432.5,220 428.8,217.5 421.2,216.2 416.2,213.8ZM405,226.2 410,225 416.2,226.9 421.9,230 420.6,234.4 415,235 410,233.1 406.2,230ZM415.6,236.9 422.5,236 429.4,236.9 428.8,239 421.2,239.8 416.2,239ZM440,238.8 443.1,236.9 446.9,238.8 447.5,241.2 443.8,242.5 440.6,241ZM412.5,244.4 418.8,243.8 425,245 431.2,248.1 437.5,247.5 443.8,248.8 448.8,251.2 446.2,252.5 441.2,253.8 445,256.2 450,258.8 456.2,259.4 462.5,258.8 470,257.5 477.5,256.9 485,256.2 492.5,258.1 497.5,261.2 496.2,265 490,266.9 481.2,268.1 472.5,268.8 462.5,268.8 453.8,269.4 447.5,267.5 440,267.5 435.6,265 434.4,261.2 436.2,257.5 432.5,252.5 428.8,251.2 421.2,251.2 416.2,248.8ZM413.8,263.8 417.5,260 422.5,258.1 426.9,260 429.4,265 427.5,268.1 421.2,268.1 416.2,266.9ZM467.5,282.5 472.5,279.4 480,277.5 487.5,277.5 491.2,280 492.5,276.9 500,277.5 507.5,278.8 512.5,281.9 515,286.2 521.2,290 527.5,293.8 535,296.9 541.2,301.2 547.5,303.8 553.1,307.5 557.5,311.2 560,317.5 555,318.8 552.5,321.2 557.5,325 565,328.8 572.5,332.5 577.5,335 583.8,337.5 586.9,341.2 583.8,345 580,347.5 577.5,351.9 572.5,351.2 567.5,347.5 562.5,343.8 558.8,342.5 560,347.5 565,352.5 568.8,357.5 571.2,362.5 570,367.5 566.2,368.8 562.5,376.2 558.8,375 552.5,370 547.5,367.5 541.2,366.2 536.2,361.2 531.2,357.5 527.5,355 521.2,353.8 517.5,356.2 513.8,357.8 508.8,358.1 505.6,356.9 505,353.8 507.5,350.6 512.5,349.4 517.5,351.2 522.5,348.8 525,345 527.5,340 531.2,336.2 532.5,332.5 528.8,328.8 525,325 521.2,322.5 516.2,318.8 510,315 505,310 501.2,307.5 497.5,311.2 492.5,312.5 486.2,311.2 480,310 472.5,308.8 466.2,307.5 458.8,306.2 452.5,303.8 448.8,301.9 455,300 463.8,299.4 470,300 468.8,296.9 465.6,293.1 463.8,288.8 465,285ZM446.2,295 447.5,288.8 450,282.5 455,278.1 462.5,276.2 470,276.2 471.2,277.5 466.2,280.6 463.8,283.8 462.5,288.8 463.8,293.8 466.9,297.5 462.5,298.8 455,299.4 450,298.8ZM400,318.8 405,313.1 410,313.8 415,317.5 417.5,321.2 415,323.8 410,323.8 406.2,321.2ZM460,362.5 463.8,357.5 465,351.2 466.2,346.9 470,346.2 472.5,350 477.5,352.5 482.5,356.2 487.5,359.4 492.5,361.9 491.2,364.4 485,363.8 480,361.2 476.2,362.5 472.5,366.2 468.8,367.5 465,365 461.9,363.8ZM476.2,372.5 480,369.4 485,368.8 485.6,370.6 482.5,373.8 478.8,375ZM494.4,376.2 496.9,373.1 498.8,374.4 498.1,378.1 495.6,379.8ZM508.8,328.8 512.5,326.2 517.5,326.2 520,329.4 518.8,333.1 513.8,334.8 510,333.1ZM276.2,270.6 288.8,269.4 301.2,271.2 312.5,272.5 320,278.8 310,283.8 302.5,290 297.5,295 287.5,300 281.2,300.6 270.6,291.9 275,282.5 276.9,275ZM303.8,293.8 310,286.2 318.8,282.5 325,280.6 328.1,285 335,285 341.2,286.9 347.5,283.8 352.5,286.2 356.2,293.8 358.8,295 356.9,286.2 357.5,281.2 362.5,280 368.8,282.5 371.2,288.8 373.8,295 377.5,301.2 383.8,306.2 390,308.8 392.5,312.5 388.8,316.2 383.8,318.8 377.5,318.8 370,317.5 363.8,317.5 360,320 352.5,321.9 342.5,323.1 333.8,323.8 327.5,320 318.8,316.2 312.5,312.5 316.2,310 325,308.1 333.8,307.5 327.5,305 318.8,303.8 310,303.1 307.5,300 315,297.5 310,295.6ZM311.2,258.8 315,253.8 321.2,250 327.5,250.6 333.8,253.1 340,256.2 346.2,255.6 348.8,250 352.5,246.9 356.2,250 358.8,255 363.8,254.4 368.8,256.2 370,260 366.2,263.1 360,264.4 352.5,265.6 345,266.9 337.5,268.8 330,270 326.2,268.1 333.8,263.8 337.5,261.2 330,261.2 322.5,263.1 315,263.8ZM285,252.5 291.2,246.9 298.8,242.5 306.2,240.6 313.8,239.4 320,241.2 317.5,246.2 312.5,248.8 306.2,251.2 300,254.4 293.8,256.2 287.5,255.6ZM331.2,229.4 340,226.2 348.8,226.9 351.2,229.4 345,231.2 335,231.2ZM331.9,235 340,233.1 347.5,233.8 346.2,237.5 340,240 333.8,238.8ZM323.8,233.8 327.5,233.1 328.8,235.6 325,236.2ZM370,221.2 378.8,220.6 387.5,222.5 395,226.2 401.2,231.2 400,235.6 393.8,235 386.2,232.5 380,230.6 375,227.5 372.5,224.4ZM405.6,226.2 411.2,225 417.5,227.5 421.9,231.2 421.2,235 415,235.6 410,232.5ZM415.6,236.9 422.5,236 429.4,237.2 427.5,239.4 418.8,239.4ZM375,250 381.2,247.5 387.5,250 392.5,248.1 398.8,249.4 405,248.8 409.4,252.5 408.8,257.5 406.2,262.5 401.2,264.4 396.2,263.1 395,258.8 390,257.5 385,256.2 380,255ZM440,238.8 443.8,237.2 447.5,239.4 445,242.5 441.2,241.9ZM414.4,263.1 418.8,258.8 425,258.1 428.8,262.5 427.5,266.9 421.2,268.1 416.2,266.9ZM372.5,260 376.2,259.4 378.1,262.5 375,264 372.5,262.5ZM325,245 330,244.4 330.6,246.5 326.2,246.9ZM367.5,236.2 370,236.9 374.4,241.9 371.9,242.5ZM383.8,285 390,282.5 392.5,277.5 398.8,275 407.5,274 411.2,276.2 410,281.2 413.8,283.8 414.4,290 410,293.8 403.8,298.8 400,295 395,291.2 388.8,288.8ZM418.5,275 426.2,274 435,273.8 443.8,275 441.2,280 437.5,285 430,285.6 427.5,290 422.5,292.5 420,287.5 418.8,281.2ZM43.1,363.8 47.5,363.1 52.5,364.4 58.1,366.2 57.5,367.5 53.8,368.1 50,366.2 45,365.6ZM65.6,390 69.4,388.1 73.1,388.8 73.8,391.2 70,392.2 66.9,391.9ZM127.5,410 131.2,407.5 135,406.2 136.2,403.8 140,402.5 140.6,405 138.1,406.2 139.4,409.4 135.6,411.2 131.9,413.8 128.8,413.1ZM58.8,438.8 62.5,436.9 66.2,435.6 69.4,434 70,435.6 66.2,437.5 62.5,439 59.4,440.2ZM233.1,433.1 237.5,432.5 240,436.2 241.2,441.2 242.5,445.2 238.8,442.5 235.6,438.8ZM1038.1,311.9 1040,307.5 1035,304.4 1030,303.8 1026.2,300.6 1021.2,301.2 1018.8,303.8 1015,300.6 1010,301.2 1006.2,303.8 1001.2,303.8 996.2,305.6 992.5,308.1 987.5,309.4 982.5,309.4 978.8,311.9 975,315 970,316.2 967.5,319.4 962.5,320.6 960,323.8 955,325 951.2,327.5 955,328.1 960,327.5 958.8,331.2 955,335 952.5,338.8 950,342.5 947.5,346.2 945,351.2 941.2,355 937.5,358.8 933.8,362.5 928.8,365 925,367.5 920,370 915,373.8 911.9,377.5 911.2,382.5 913.1,387.5 913.1,392.5 915,397.5 917.5,401.2 921.2,403.8 926.2,403.1 931.2,401.2 935,398.8 938.8,396.2 941.2,395 942.5,398.8 943.8,403.8 946.2,407.5 948.8,412.5 950,417.5 956.2,421.2 958.1,422.9 962.5,421.5 965.6,418.8 968.8,415 970,410 972.5,405 975,400 978.8,395 980,391.2 977.5,388.8 973.8,385 972.5,380 973.8,375 977.5,371.2 982.5,367.5 987.5,363.8 991.2,360 992.5,355 995,350 998.8,346.9 1005,346.2 1010,347.5 1011.2,351.2 1007.5,355 1003.8,358.8 998.8,362.5 995,366.2 992.5,371.2 992.5,376.2 992.5,382.5 993.8,386.2 997.5,388.8 1002.5,390 1008.8,389.4 1015,388.1 1021.2,386.2 1026.2,385 1030,383.8 1033.8,380 1037.5,375 1041.2,370 1040,365 1037.5,360 1035,355 1033.8,348.8 1033.8,342.5 1032.5,337.5 1031.2,332.5 1032.5,327.5 1028.8,323.8 1027.5,320 1030,316.2 1035,313.8ZM932.5,407.5 936.9,408.8 938.1,413.8 936.2,418.8 936.9,423.8 940,426.9 945,429.4 952.5,428.8 955,431.2 958.8,432.8 965,430.6 971.2,428.1 978.8,426.9 985,428.1 986.2,425 991.2,423.8 991,418.8 992.5,412.5 995,408.8 997.5,406.2 1000.6,405 1000,409.4 1004.4,411.9 1007.5,409.4 1007.5,404.4 1001,403 1000,400.5 1005,398.5 1011,396 1017.5,394.6 1023.8,394.2 1040,396 1075,440 1087.5,471.2 1081.2,495 1086.2,501.2 1092.5,500.6 1098.8,502.5 1105,504.4 1110,505 1115,508.1 1116.2,511.9 1112.5,512.5 1108.8,511.9 1105,513.1 1103.8,516.2 1105,520 1106.2,525 1105,528.8 1106.2,532.5 1106.2,535.6 1100,535 1093.8,536 1087.5,536.9 1081.2,537.5 1075,538.1 1070,538.8 1066.2,540 1064.4,541.2 1063.8,538.8 1061.2,538.8 1058.8,540 1055,540.6 1050,541.2 1046.2,538.8 1042.5,536.9 1038.8,537.5 1035,540 1031.2,538.8 1028.8,536.2 1025,535 1022.5,532.5 1020,527.5 1018.8,522.5 1020,518.8 1023.1,516.9 1030,513.8 1022.5,513.8 1017.5,514.4 1015,517.5 1012.5,513.8 1007.5,515 1003.8,516.2 1000,517.5 998.8,521.2 1000.6,525 1003.1,528.1 1005,531.2 1002.5,531.9 1000,532.5 1001.9,536.2 1001.2,540 1000,541.9 998.1,538.1 995.6,536.2 994.4,532.5 993.1,527.5 990,523.1 987.5,520 985,517.5 983.1,514.4 983.8,510.6 982.5,507.5 978.8,506.2 975.6,504.4 971.2,502.5 967.5,500 963.8,496.9 960,492.5 957.5,488.8 955,490 953.8,486.2 951.2,485.6 948.1,487.5 948.8,490.6 951.2,494.4 954.4,498.1 957.5,502.5 961.2,506.9 964.4,508.1 965,510 968.8,511.9 973.1,513.8 976.9,516.9 978.1,520.6 976.2,519.4 972.5,517.5 970,519.4 971.9,522.5 970,525 968.8,528.8 966,532.5 965,530 966.9,526.9 966.2,522.5 963.8,519.4 961.2,517.5 956.2,516.2 951.2,512.5 946.2,508.8 942.5,505 938.8,500 935,495.6 931.2,494.4 926.2,495 923.8,495.6 921.9,498.1 918.8,499.4 913.8,499.8 908.8,499.4 905,500.6 902.5,503.8 903.1,506.2 901.2,508.8 897.5,511.2 892.5,513.8 890,517.5 888.1,521.2 887.5,525 885.6,528.8 882.5,532.5 878.8,533.8 876.2,536.2 872.5,538.1 866.2,538.8 862.5,540 860,541.9 856.9,538.8 853.8,536.2 850,535.6 844.4,535.6 843.8,531.2 841.2,527.5 841.9,523.8 843.8,520 844.4,515 845,510 843.8,506.2 842.5,503.1 843.1,500.6 847.5,498.1 855,497.8 862.5,498.8 870,499.4 876.2,499.8 881.2,500 881.9,495 881.2,490 880.6,485 878.8,480 876.2,476.2 872.5,473.8 867.5,471.2 865,468.1 870,466.2 875,466.9 880,466.2 878.8,461.2 881.2,460 882.5,462.5 887.5,461.2 892.5,458.8 895,455 897.5,452.5 901.2,451.2 905,449.4 907.5,446.2 910,442.5 912.5,437.5 917.5,436.2 922.5,435 925,432.5 928.8,433.1 930,428.8 928.8,423.8 928.1,418.8 927.5,413.8 930,411.2ZM870,403.8 875,406.2 878.8,407.5 876.2,412.5 873.8,416.2 876.2,420 880,423.8 883.8,427.5 886.2,432.5 888.8,437.5 893.8,440 895.6,443.8 893.8,447.5 892.5,450 890,451.2 885,452.5 880,453.1 875,453.8 870,455 865,456.2 861.2,458.1 863.1,455 867.5,451.9 872.5,450 870,448.8 866.2,447.5 863.8,446.9 867.5,443.8 870,441.2 866.2,440 867.5,437.5 872.5,436.2 871.2,432.5 872.5,428.8 870,425 866.2,426.2 862.5,425 863.8,421.2 861.2,417.5 860,412.5 861.2,407.5 863.8,403.8 867.5,401.2ZM837.5,431.2 841.2,428.8 846.2,425 851.2,423.8 856.2,425 860,428.1 858.8,432.5 857.5,437.5 856.2,442.5 851.2,444.4 846.2,446.2 841.2,448.1 837.5,447.5 836.9,444.4 840,441.2 838.8,437.5 840,434.4ZM940,418.8 943.8,417.5 947.5,420 946.2,423.8 942.5,424.4 940,422.5ZM935.6,420.6 938.1,420 938.8,423.1 936.2,423.8ZM949.4,531.2 955,530 960,530.6 963.8,529.8 962.5,533.8 961.2,537.5 956.2,536.2 951.2,533.8ZM928.1,514.4 931.2,512.5 935,513.1 934.4,518.8 933.8,523.8 930,525.6 928.1,522.5 928.8,518.1ZM930,504.4 933.1,502.5 934,506.9 932.5,510.6 930,509.4ZM899.4,521.2 901.9,520 905,521.2 903.1,523.5 900.6,523.1ZM893.8,525 895.6,524.8 895,526.9ZM906.2,519.4 908.1,519.1 907.5,520.4ZM1003.1,544.4 1007.5,545 1012.5,545.6 1016.9,546.5 1016.2,547.8 1011.2,547.2 1006.2,546.5 1003.5,545.8ZM1046.2,547.5 1050,546.2 1053.8,545 1056.9,544 1055.6,546.2 1052.5,548.8 1048.8,549.8 1046.5,549ZM963.05,545.25 962.675,546.65 961.65,547.675 960.25,548.05 958.85,547.675 957.825,546.65 957.45,545.25 957.825,543.85 958.85,542.825 960.25,542.45 961.65,542.825 962.675,543.85ZM1007.5,525 1010,525.6 1009.4,528.1 1007.5,527.5ZM1015,528.8 1016.9,528.8 1016.5,530.6 1014.8,530.4ZM1018.8,535 1021.2,535.2 1020.6,536.9ZM1011.2,535 1013.1,535.2 1012.5,536.9ZM1025,541.9 1026.9,540 1027.5,541.9 1026,543.5ZM1021.2,525 1023.1,524.8 1022.8,526.5ZM940,214.2 946.7,212.9 955,213.8 959.2,214.2 963.3,217.5 965.8,212.5 969.2,211.2 973.3,213.3 977.5,215.8 980.8,219.2 985,221.7 990,224.2 993.3,226.7 995,229.2 990,228.3 986.7,226.7 983.3,227.5 980.8,230.8 979.2,234.2 977.5,237.5 974.2,240 972.5,244.2 970.8,247.5 968.3,247.5 965,245 960.8,242.5 957.5,239.2 955,235.8 954.2,233.3 958.3,231.7 965,230 968.3,227.5 963.3,226.7 959.2,228.3 955,230 950.8,230 947.5,227.5 945,224.2 942.5,220.8 940.4,217.5ZM975.4,209.6 980,207.5 985,206.2 990,207.9 995,209.6 998.3,207.5 1002.5,206.7 1006.7,207.9 1013.3,208.8 1020,209.6 1021.7,211.2 1018.3,214.2 1014.2,216.7 1009.2,218.3 1005,220 1000.8,218.8 996.7,217.1 992.5,215.8 988.3,215 984.2,214.2 980,213.3 976.7,211.7ZM990,238.3 992.5,235 994.2,231.7 996.7,230 1000.8,231.7 1004.2,234.2 1007.5,235 1005,238.3 1001.7,240.4 998.3,240.4 995.8,238.3 992.5,238.8ZM939.2,223.8 941.7,224.6 945,227.9 946.7,230.4 944.6,230 941.7,227.5 939.6,225.4ZM1041.7,210.2 1046.7,209.2 1052.5,208.5 1052.1,209.3 1046.7,210.2 1042.1,210.8ZM1024.6,223.8 1028.3,222.9 1032.9,223.3 1032.5,224.2 1027.5,224.3ZM818.5,580 821.7,579 820.6,584.2 817.5,585.8ZM810.2,584.6 813.3,583.8 812.9,586.2ZM805,584.6 808.1,583.8 807.5,585.8ZM798.8,586.2 800.8,585.8 800.4,587.5ZM1587,780 1590,787.5 1593.8,797.5 1598.8,801.2 1602.5,810 1606.2,817.5 1611.2,825 1617.5,832.5 1623.8,840 1630,847.5 1635,852.5 1638.8,860 1640,870 1638.8,880 1635,890 1630,900 1625,910 1620,917.5 1615,925 1610,930 1605,932.5 1597.5,927.5 1592.5,926.2 1585,925 1577.5,922.5 1572.5,917.5 1567.5,912.5 1566.2,906.2 1565,900 1563.8,895 1560,902.5 1558.8,906.2 1555,905 1556.2,900 1552.5,896.2 1547.5,892.5 1542.5,890 1535,887.5 1527.5,887.5 1520,888.8 1510,891.2 1500,895 1490,897.5 1480,900 1472.5,903.8 1465,905 1457.5,902.5 1452.5,898.8 1453.8,892.5 1455,885 1452.5,877.5 1450,870 1447.5,862.5 1445,855 1443.8,847.5 1446.2,840 1451.2,836.2 1457.5,832.5 1465,830 1472.5,827.5 1480,823.8 1485,818.8 1488.8,812.5 1495,808.8 1501.2,802.5 1507.5,797.5 1515,797 1520,800 1525,795 1528.8,788.8 1526.2,785 1532.5,782.5 1540,785 1547.5,786.2 1555,788.8 1560,791.2 1556.2,796.2 1558.8,802.5 1565,806.2 1572.5,811.2 1577.5,815 1581.2,807.5 1582.5,800 1583.8,790 1585,782.5ZM1597.5,938.8 1603.8,940 1610,938.8 1615,940 1613.8,947.5 1610,953.8 1606.2,956.2 1601.2,951.2 1598,945ZM1740,906.2 1743.8,912.5 1747.5,920 1752.5,926.2 1760,928.8 1762.5,932.5 1757.5,937.5 1752.5,942.5 1747.5,945 1742.5,940 1743.8,933.8 1741.2,927.5 1740,920 1737.5,912.5ZM1732.5,940 1737.5,942.5 1735,950 1730,957.5 1723.8,963.8 1717.5,968.8 1710,972.5 1705,970 1707.5,965 1713.8,960 1720,953.8 1726.2,947.5ZM1582.8,487 1587.4,488.9 1593,493.5 1598.5,496.3 1602.2,499.1 1600.4,501.9 1594.8,503.7 1591.1,507.4 1587.4,505.6 1581.9,502.8 1579.1,504.6 1576.3,507.4 1573.5,505.6 1574.4,501.9 1578.1,500 1580.9,496.3 1581.9,491.7ZM1576.3,511.1 1581.9,512 1584.6,518.5 1583.7,525.9 1580.9,531.5 1579.1,537 1580,542.6 1577.2,547.2 1572.6,548.1 1567,549.1 1561.5,550.9 1557.8,553.7 1554.1,556.5 1551.3,554.6 1552.2,550.9 1546.7,550.9 1541.1,552.8 1535.6,553.7 1531.9,555.6 1528.1,556.5 1526.3,554.6 1530,551.9 1535.6,548.1 1541.1,545.4 1546.7,543.5 1552.2,542.6 1555.9,539.8 1559.6,536.1 1565.2,533.3 1568.9,529.6 1571.7,524.1 1573.5,518.5 1574.4,513.9ZM1538.3,556.5 1543,553.7 1548.5,552.8 1551.3,554.6 1547.6,557.4 1543,559.3 1539.3,559.6ZM1523.5,557.4 1528.1,555.6 1532.8,557.4 1533.7,562 1531.9,566.7 1529.1,569.4 1526.3,566.7 1524.4,562ZM120.8,629.2 124.2,628 127.5,631.7 124.2,634.7 121.3,633.3ZM102.5,617.5 105,618 104.2,619.7ZM110,620.8 113,621.7 111.7,623.3ZM115,623 118.3,623.3 121.3,625 120,626.3 116.7,624.7ZM852.9,374.4 856.1,375.04 855.78,377.6 853.38,377.6ZM880.5,386 883.5,386.6 883.2,389 880.95,389ZM733.1,520.6 734.9,520.96 734.72,522.4 733.37,522.4ZM746.8,524.8 749.2,525.28 748.96,527.2 747.16,527.2ZM751,526 753,526.4 752.8,528 751.3,528ZM761,530 763,530.4 762.8,532 761.3,532ZM976.9,405.6 979.4,404.4 980,408.1 978.1,411.9 976.5,410ZM48,440.2 52,439.8 52.2,441.6 48.2,442ZM38,442.7 42,442.3 42.2,444.1 38.2,444.5ZM28,444.7 32,444.3 32.2,446.1 28.2,446.5ZM18,445.7 22,445.3 22.2,447.1 18.2,447.5ZM9,446.2 13,445.8 13.2,447.6 9.2,448Z" fill="#11b6bf" stroke="#123" stroke-width="0.45" stroke-linejoin="round"/>
<path d="M3.8,320 10,322.5 15,326.2 22.5,330 27.5,335 32.5,336.2 37.5,335 46.2,337.5 51.2,340 53.8,343.8 54.4,343.1 50,344.4 45,345.6 42.5,348.8 41.2,353.8 40,356.2 38.8,356.9 3.8,351.2ZM3.8,296.2 10,295.8 15.5,298 12.5,300.5 6.2,301.8 3.8,301.2Z" fill="#de0059" stroke="#401" stroke-width="0.45" stroke-linejoin="round"/>
<path d="M532.7,1016.8 532,1016.8 531.4,1016.4 531.4,1015.6 532.1,1014.6 532.8,1015.5 532.7,1016.8M523.8,956.9 525.9,955.1 527.1,958.9 524.7,960.5 523.8,956.9M524,990.2 525.3,990.2 525.4,991.7 524.2,991.7 524,990.2M521.9,985.3 523,987 523.2,988.8 521.4,988.9 520.6,987.3 521.9,985.3M528.9,1012 527.8,1012.6 526.5,1011.6 527.3,1009.5 528.9,1009.7 528.9,1012M526.1,1008.2 526.8,1006.9 528.1,1008.1 526.9,1009.3 526.1,1008.2M529.5,1004.5 531.6,1006 531.2,1008.4 529.5,1008.8 528,1007.1 529.5,1004.5M523.7,1000 522.5,998.3 523.3,996.8 524.7,996.1 525.4,997.9 524.7,999.3 523.7,1000M543.7,1025.4 544.1,1023.9 545.1,1024.4 544.6,1025.7 543.7,1025.4M520.5,993.6 521.6,992.4 522.3,994.3 521.5,995.9 520.3,995.1 520.5,993.6M521.9,982.9 519.5,984.3 518.4,980.5 520.6,979 522.1,980.4 521.9,982.9M532.4,1009.7 533,1013.2 531.2,1013.9 530.6,1011.6 532.4,1009.7M527.7,999.7 526.8,1000.9 525.9,1001 525,1000 525.4,998.5 526.8,998.1 527.7,999.7M519.7,972.6 521,973.2 521,975.1 519.7,975.5 518.4,974.9 518.9,973.3 519.7,972.6M524,979.9 524.5,981.9 523.7,983.3 522.1,984.2 521.5,982.2 522.3,979.8 524,979.9M520.6,989.2 520.3,987.3 520.3,985.4 522,985.5 522.9,987 521.8,988.4 520.6,989.2M528.3,965.1 526.3,963.9 526.9,961.1 529.2,962.3 528.3,965.1M524,953.5 524.2,951.2 525.6,950.1 526.4,952 526.4,954.5 524.7,954.5 524,953.5M531.4,1008.5 530.6,1008.4 530.3,1007.1 530.8,1005.8 531.6,1006.9 531.4,1008.5M530.6,1003.4 532.1,1006.8 530.7,1009.9 528.1,1006.9 530.6,1003.4M532,1019.7 531.5,1016.3 533.6,1015 533.8,1019 532,1019.7M522,997.6 522,1000.1 520.3,999.6 520.8,997.3 522,997.6M545.4,1025.7 544.7,1025.5 544.4,1024.7 544.8,1024 545.4,1024.2 546.1,1024.9 545.4,1025.7M524,1005.6 523,1008.4 521,1006.3 522.3,1003.5 524,1005.6M522.6,1003.1 521.5,1004.1 520.6,1002.7 521.7,1001.3 522.6,1003.1M538.4,1023.6 538.2,1021.6 539.6,1021.5 539.7,1022.8 538.4,1023.6M523.4,1002.4 523.3,1004.6 522,1005.5 520.7,1004.1 521.2,1001.3 523.4,1002.4M532.3,1008.2 531.2,1008.4 531.1,1006.3 532,1005.4 532.7,1007 532.3,1008.2M532.5,1016.2 532.2,1017.7 531,1018.2 530.2,1016.9 530.7,1015.5 531.5,1014.9 532.5,1016.2M539.9,1015.7 540.4,1016.5 540.8,1017.9 539.9,1018.6 539.3,1017.6 539,1016.4 539.9,1015.7M538.1,1019.3 538.9,1018.2 540.6,1017.7 540.4,1020.1 539.9,1021.6 538.2,1021.6 538.1,1019.3M520.4,995.7 521.3,993 523.3,994 522.9,996.6 521.6,998.2 520.4,995.7M523.3,1007.9 522,1006.1 522.8,1004.2 524.3,1004.8 524.9,1006.4 523.3,1007.9M519.8,974.7 519.3,976.8 518.3,976.9 517.6,975.4 517.5,974 519.1,973.3 519.8,974.7M519.9,974.6 519.3,971.2 521.6,970.2 522.7,972.5 521.5,974.7 519.9,974.6M531.6,1016.8 530,1018.8 528.1,1018.2 527,1016.4 528.4,1014.6 530.1,1014.2 531.6,1016.8M521.2,976.6 521.9,978.7 520.7,980.7 519.5,978.2 521.2,976.6M526.1,964.3 528.1,964.5 527.6,966.6 525.9,966.6 526.1,964.3M522.9,1004 522.7,1002.2 523.5,1001.6 525,1001.6 524.9,1003.6 523.8,1004.4 522.9,1004M529.3,1015.2 528.4,1014.7 528.2,1012.9 528.7,1011.7 529.9,1012.1 530.4,1013.6 529.3,1015.2M526,988.1 526.3,986.6 527.6,985.5 528.9,986.8 528.4,988.1 527.2,989.5 526,988.1M548.6,1024.5 547.1,1024.5 547.4,1022.5 548.5,1022.9 548.6,1024.5M522.6,957.9 524.5,959 525.2,961.2 523.5,964 522,962.2 521,960.2 522.6,957.9M524.9,1009.9 525.6,1008 526.8,1009.6 526,1011.4 524.9,1009.9M531.5,1019 530.3,1018.3 530.7,1015.9 532.1,1015.9 532.4,1017.8 531.5,1019M524.5,1004.9 525.6,1006.9 525,1008.7 523.5,1009.1 523.5,1006.7 524.5,1004.9M525.7,987.6 524.9,988.8 523.4,988.2 523.6,986.3 524.4,984.8 525.3,985.6 525.7,987.6M542.8,1016.6 541.6,1017.9 540,1016.6 541.7,1014.4 542.8,1016.6M534.7,1013.4 535.1,1014.5 534,1015.7 533,1014.5 533.4,1013.6 534,1012.9 534.7,1013.4M522.7,975.5 521.9,976.3 520.6,976.2 520.3,974.6 521.3,973.3 522.1,973.9 522.7,975.5M548.3,1021.2 548.7,1022.7 548.2,1024.1 547.3,1023.1 547,1021.6 548.3,1021.2M523.4,971 522.7,972.1 521.7,970.8 522.4,969.6 523.2,969.5 523.4,971M539.8,1025.9 538.4,1025 538.6,1023.1 539.5,1022.2 540.5,1022.7 540.6,1024.4 539.8,1025.9M528.1,1009.4 526.9,1008.1 527.4,1006.9 528.5,1006.2 529,1008.2 528.1,1009.4M524.9,1008.6 526.1,1008.2 526.3,1009.9 525.2,1010.2 524.9,1008.6M529.7,951.3 527.9,952.4 526.7,950.3 528.8,948.5 529.7,951.3M537.1,1021.7 535.9,1023.2 534.8,1021.2 536.3,1019.7 537.1,1021.7M536.7,1020.8 536.4,1018.9 537.7,1018.3 538.7,1020.1 537.6,1021.3 536.7,1020.8M522.6,955.9 523.1,954.5 524.2,954.5 524.1,955.9 522.6,955.9M527.7,1015.4 529.3,1013.6 530.6,1015.7 529,1017.6 527.7,1015.4M543,1018.2 542.3,1021.8 540.6,1020.8 540.6,1017.5 543,1018.2M518.2,983.6 517.8,979.6 520.2,980.2 520.7,983.5 518.2,983.6M528.7,1006.4 529.6,1007.5 529.4,1009.4 528.3,1009.4 526.7,1008.8 527.4,1006.8 528.7,1006.4M548,1019.5 546.4,1019.7 546.6,1017.2 547.9,1017.2 548,1019.5M525.6,965.3 524.5,966.3 523.9,964.7 524.9,963 525.6,965.3M524.8,982.1 525.8,981.3 526.4,983 525.8,984.2 524.6,983.7 524.8,982.1M519.5,989.9 520.6,989.8 520.5,992 519.5,991.9 519.5,989.9M544,1023.4 541.9,1020.2 544.1,1017.9 545.5,1020.3 544,1023.4M520.6,971.2 519,968.4 521.6,966.5 522.9,970 520.6,971.2M524.4,989.6 523.7,988.1 524.7,986.5 525.7,986.9 526.3,988.6 525.3,989.6 524.4,989.6M530.4,1012.1 531.3,1012.6 530.8,1014.4 529.5,1013.2 530.4,1012.1M531.1,1009.6 532,1010.9 532.5,1012.9 531.3,1014.6 530.4,1013.4 529.5,1011.5 531.1,1009.6M526.1,991 527,992.8 526.1,995.2 524.1,993.4 524.2,991.1 526.1,991M539.2,1019.9 538.1,1018.8 539.4,1017.8 539.9,1019.1 539.2,1019.9M538.4,1014.4 541.4,1014.6 541.6,1016.7 540.2,1019.7 537.9,1017 538.4,1014.4M535.6,1017.4 535.1,1020.2 533.4,1020.6 532.4,1020.5 532.2,1017.2 533.5,1016.5 535.6,1017.4M521.5,971.4 520.4,971.3 520.3,970 521.2,969.8 521.5,971.4M529.1,949 529.8,951.1 528.6,951.6 527.7,951 527.1,949.6 528.2,948.3 529.1,949M523.4,1006.3 522.2,1005.6 521.6,1003.5 522.5,1002.1 524.5,1002.4 525,1004.8 523.4,1006.3M520.4,962 520.4,959.1 521.9,958.5 522.2,961.2 520.4,962M525.6,989.9 526.1,988.8 526.9,989 526.9,990.6 526.2,990.7 525.6,989.9M518.8,993 520.8,991 521.9,992.7 521,995.4 518.8,993M536,1024.3 536,1022.8 537.5,1022.9 537.9,1024.1 537.1,1024.8 536,1024.3M532.8,1008.3 534.1,1009 533.7,1010.8 532.9,1011.5 532,1010.9 531.5,1009 532.8,1008.3M526.5,982.8 527.3,980.3 528.9,981.8 529.9,983.4 528.3,985.9 526.6,985.2 526.5,982.8M532.8,1021.2 530.9,1021.2 530.7,1017.9 533,1017.1 533.8,1019.6 532.8,1021.2M529,1015.8 530.8,1014 532.7,1015.2 532.7,1018.3 531,1019.6 529.4,1018.1 529,1015.8M520,973.7 521,973.1 521.8,974.4 521.8,975.9 520.3,976.8 519.6,975.3 520,973.7M524.5,964.7 525.3,963.4 526.1,965.1 525,966.2 524.5,964.7M536.2,1021.1 536.4,1017.9 539.1,1018.4 539.2,1021.3 536.2,1021.1M540.3,1022.2 538.5,1020.6 539.3,1018.1 540.5,1017.9 541.5,1018.6 541.9,1021 540.3,1022.2M544,1021.5 543.4,1017.7 546,1017.1 546.2,1020.9 544,1021.5M529.8,1017.4 528.9,1016.8 528.7,1014.6 529.9,1013.4 531.2,1014.4 531.4,1016.6 529.8,1017.4M523.7,1005.7 525.4,1008.4 523.9,1011.5 522,1010 522.3,1007.7 523.7,1005.7M525.2,987.8 524.8,991 521.9,990.4 522.3,986.5 525.2,987.8M527.8,998.4 528.1,999.7 527.8,1001.3 526.3,1001.3 525.3,999.6 526.5,998.3 527.8,998.4M524.8,949.5 526.7,949.1 526.8,952.3 525.6,952.8 524.1,951.9 524.8,949.5M530.5,1017 528.8,1018.8 527.8,1016.1 529.3,1014.4 530.5,1017M523.1,988.6 523.5,990.8 522.3,991.4 521.5,989.4 523.1,988.6M523.3,967.8 523.2,969.3 522.2,969.6 521.5,968.3 522,966.7 522.9,966.4 523.3,967.8M530.1,963.8 528.3,963.3 528,962.2 528.1,960.6 529.7,959.6 530.5,961.8 530.1,963.8M529,953.5 530.4,954.2 531.3,956 530.1,957.7 528.3,957.4 527.6,954.8 529,953.5M534.6,1021.2 534,1022.7 532.8,1022.7 531.7,1021.3 532.6,1020.3 533.9,1019.2 534.6,1021.2M520.8,964.4 521.9,965.8 522.2,967.9 520.3,968.4 520.1,966.2 520.8,964.4M543.3,1016 544.6,1016.6 543.6,1018.2 542.3,1017.2 543.3,1016M542.3,1023.4 542.5,1021.2 544.6,1019.8 546,1021.7 546.1,1024.8 544,1025.4 542.3,1023.4M525.8,1003.2 524.8,1000.8 526,999 527.6,999 528.4,1000.7 527.6,1003 525.8,1003.2M524.2,1005.2 525.6,1004.6 526.4,1007.1 524.7,1007.2 524.2,1005.2M541.9,1026.8 540.4,1025.6 540.1,1023.2 541.7,1022.8 543,1024.4 541.9,1026.8M544,1022.7 542.4,1020.8 543.7,1018.9 544.8,1020.5 544,1022.7" fill="none" stroke="#444" stroke-width="0.45" stroke-linejoin="round" stroke-linecap="round"/>
<path d="M195.8,314.2 195.6,388.8M286.2,466.2 420,466.2 428.8,469.5 438.8,473" fill="none" stroke="#0d4a55" stroke-width="0.5" stroke-linejoin="round" stroke-linecap="round"/>
<path d="M438.8,473 451.2,475 465,475 472.5,480 477.5,486.2 485,492.5 487.5,500 485,505 492.5,507.5 500,503 506.2,499.5 513.8,497.5 520,493 523.8,490.5 542.5,485 546.2,477.5 555,475.5 556.2,486.2 558.8,493" fill="none" stroke="#0c5c66" stroke-width="0.5" stroke-linejoin="round" stroke-linecap="round"/>
<path d="M438.8,480 445,476.2 451.2,472.5 457.5,468.8 463.8,468.8 470,472.5 472.5,477.5 470,481.2 462.5,480 455,478.8 447.5,480 441.2,481.2ZM458.8,510 457.5,502.5 458.8,495 462.5,488.8 466.2,486.2 470,487.5 468.8,495 467.5,502.5 465,508.8ZM473.8,483.8 481.2,485 487.5,486.2 493.8,488.8 495,493.8 490,495 485,498.8 482.5,503.8 480,500 478.8,493.8 475,488.8ZM481.2,510 487.5,507.5 493.8,505 500,502.5 498.8,506.2 491.2,510 485,512ZM497.5,500 505,497.5 512.5,496.2 513.8,499.5 506.2,501.2 500,502ZM402,436.2 406.2,433.8 408.8,440 411.2,447.5 413.8,453.8 412.5,457 408.8,452.5 405,445 402.5,440ZM273.8,343.8 282.5,341.2 292.5,338 302.5,336.2 310,341.2 303.8,346.2 296.2,347.5 292.5,352 285,352.5 287.5,346.2 280,345.5ZM312.5,382.5 320,377.5 322.5,372.5 330,375.5 340,371.2 350,369.5 348.8,372.5 337.5,377.5 330,381.2 322.5,384.5 315.5,384.2Z" fill="#fff" stroke="#401" stroke-width="0.45" stroke-linejoin="round"/>
<path d="M1064.4,541.2 1066.2,540 1070,538.8 1075,538.1 1081.2,537.5 1087.5,536.9 1093.8,536 1092.5,540 1090,543.8 1088.8,548.8 1086.2,551.9 1080,555 1073.8,558.1 1068.8,561.2 1066.2,562.5 1063.8,560 1063.1,556.2 1064.4,552.5 1065,548.8 1063.8,545ZM985,428.1 986.2,425 991.2,423.8 996.2,425 1000,426.9 999.4,429.8 993.8,430 987.5,430ZM1038,311.8 1046.2,313.8 1057.5,316.2 1070,320 1080,325 1087.5,330 1090,336.2 1086.2,342.5 1077.5,345 1067.5,342.5 1057.5,337.5 1048.8,335 1047.5,337.5 1053.8,343.8 1058.8,350 1060,356.2 1066.2,360.5 1073.8,361.2 1077.5,356.2 1083.8,354.5 1087.5,350 1093.8,345 1097.5,340 1105,342.5 1103.8,335 1100,326.2 1102.5,322.5 1110,323.8 1115,327.5 1111.2,333.8 1117.5,336.2 1125,332.5 1132.5,327.5 1142.5,322.5 1152.5,320 1157.5,323.8 1162.5,320 1172.5,320 1180,322.5 1185,318.8 1180,312.5 1175,307.5 1180,306.2 1190,311.2 1200,312.5 1210,315 1217.5,318.8 1222.5,322.5 1220,315 1216.2,306.2 1215,300 1220,297.5 1223.8,290 1230,283.8 1237.5,282.5 1243.8,287.5 1246.2,297.5 1245,310 1246.2,320 1245,330 1240,336.2 1230,340 1237.5,341.2 1246.2,337.5 1252.5,330 1257.5,322.5 1265,321.2 1270,330 1268.8,320 1260,317.5 1252.5,317.5 1248.8,310 1247.5,300 1252.5,295 1256.2,287.5 1255,283.8 1262.5,292.5 1267.5,290 1275,287.5 1285,290 1292.5,295 1295,306.2 1298.8,305 1296.2,297.5 1291.2,292.5 1287.5,287.5 1283.8,281.2 1290,277.5 1300,277.5 1310,276.2 1315,268.8 1320,263.8 1330,260 1342.5,256.2 1355,253.8 1367.5,252.5 1377.5,250 1385,242.5 1392.5,237.5 1400,236.2 1410,241.2 1422.5,246.2 1437.5,248.8 1445,253.8 1442.5,262.5 1435,270 1425,275 1415,280 1407.5,283.8 1420,280 1430,275 1440,272.5 1447.5,277.5 1457.5,277.5 1470,278.8 1480,281.2 1492.5,283.8 1496.2,276.2 1505,280 1517.5,281.2 1522.5,287.5 1520,295 1530,300 1540,292.5 1555,291.2 1562.5,297.5 1572.5,297.5 1575,290 1585,289.5 1597.5,295 1609,290 1609,289.4 1616.2,289.4 1622.5,291.9 1630,295 1637.5,298.8 1647.5,301.2 1657.5,302.8 1666.2,303.8 1671.2,306.2 1673.8,310 1680,312.5 1691.2,313.1 1701.2,312.5 1713.8,311.9 1716.2,315 1717.5,319.4 1721.2,320 1723.8,316.2 1722.5,311.2 1726.2,309.4 1735,310 1745,310.6 1755,311.9 1762.5,313.8 1767.5,316.2 1770,320 1770.6,326.2 1770,335 1770.6,340 1765,345 1766.2,355 1767.5,360 1765,365 1760,368.8 1755,370 1747.5,371.2 1740,372.5 1732.5,373.8 1725,376.2 1717.5,378.8 1710,381.2 1702.5,383.8 1701.7,385 1695,388.3 1690,393.3 1691.7,398.3 1686.7,405 1681.7,410 1678.3,416.7 1680,423.3 1676.7,430 1671.7,436.7 1666.7,443.3 1661.7,450 1657.5,455.8 1655,450 1653.3,441.7 1651.7,433.3 1651.7,425 1653.3,416.7 1658.3,408.3 1663.3,401.7 1670,395 1676.7,388.3 1683.3,380 1690,376.7 1695,375.8 1692.5,372.5 1688.3,371.7 1680,375 1673.3,378.3 1663.3,383.3 1653.3,386.7 1646.7,389.2 1640,388.3 1635,391.7 1626.7,393.3 1616.7,391.7 1609.2,393.3 1603.3,395 1596.7,396.7 1590,398.3 1583.3,402.5 1578.3,406.7 1573.3,413.3 1568.3,418.3 1563.3,422.5 1558.3,425 1553.3,426.7 1556.7,428.3 1560,425.8 1563.3,425 1565,427.5 1561.7,430.8 1560,433.3 1563.3,434.2 1568.3,430.8 1573.3,431.7 1578.3,436.7 1580.8,441.7 1579.2,448.3 1576.7,456.7 1573.3,465 1569.2,473.3 1564.2,480.8 1559.2,486.7 1553.3,492.5 1548.3,497.5 1543.3,501.7 1538.3,503.3 1533.3,502.5 1535.2,502.9 1532.1,499.8 1531,493.5 1533.1,488.3 1536.2,482.1 1542.5,477.9 1547.7,472.7 1544.6,469.6 1538.3,471.7 1532.1,471.7 1527.9,469.6 1521.7,465.4 1515.4,460.2 1511.2,452.9 1509.2,445.6 1505,440.4 1498.8,437.3 1490.4,436.7 1482.1,438.3 1477.9,442.5 1475.8,449.8 1473.8,456 1469.6,460.2 1461.2,460.2 1452.9,459.2 1444.6,460.2 1436.2,462.3 1427.9,462.3 1419.6,460.2 1411.2,458.1 1402.9,457.1 1394.6,456 1388.3,451.9 1382.1,448.8 1374.8,446.7 1369.6,449.8 1368.5,455 1365.4,458.8 1357.1,458.1 1348.8,456 1340.4,454.6 1332.1,457.1 1323.8,460.2 1317.5,463.3 1313.3,461.2 1307.1,459.2 1300.8,456 1294.6,452.9 1288.3,454 1282.1,451.9 1276.9,446.7 1271.7,440.4 1267.5,435.2 1262.3,431 1255,432.1 1249.8,435.2 1244.6,433.1 1237.3,431 1234.2,425.8 1225.8,423.8 1215.4,426.9 1205,430 1194.6,432.1 1187.3,435.2 1188.3,440.4 1184.2,445.6 1189.4,448.8 1188.3,452.9 1180,454 1180,453.8 1175,452.5 1170,451.9 1165,453.1 1160,452.5 1155,455 1151.2,452.5 1146.2,450 1140,448.1 1135,449.4 1130,452.5 1126.2,455 1123.1,456.9 1120,459.4 1118.1,463.8 1116.9,467.5 1118.1,471.2 1121.9,473.1 1125,475 1127.5,478.8 1128.1,481.9 1125,485 1121.2,487.5 1118.8,490 1116.9,493.1 1119.4,495 1120.6,498.8 1123.1,503.8 1125,508.1 1121.2,511.9 1117.5,510 1115,508.1 1110,505 1105,504.4 1098.8,502.5 1092.5,500.6 1086.2,501.2 1081.2,499.4 1077.5,496.2 1073.8,492.5 1070,490 1071.9,487.8 1071.9,487.5 1071.2,483.8 1073.8,480 1077.5,477.5 1080,475.6 1077.5,474.4 1080,472.5 1082.5,470 1083.8,466.2 1081.2,462.5 1075,460 1067.5,458.8 1062.5,456.2 1060,452.5 1055,450 1057.5,447.5 1052.5,443.8 1045,444.4 1041.9,443.8 1043.1,440 1046.2,437.5 1043.8,433.8 1041.2,428.8 1037.5,423.8 1031.2,418.8 1026.2,412.5 1023.8,405 1022.5,400 1022.5,403.8 1023.8,397.5 1023.8,393.8 1026.2,395 1030,392.5 1028.8,388.8 1025,386.2 1030,383.8 1033.8,380 1037.5,375 1041.2,370 1040,365 1037.5,360 1035,355 1033.8,348.8 1033.8,342.5 1032.5,337.5 1031.2,332.5 1032.5,327.5 1028.8,323.8 1027.5,320 1030,316.2 1035,313.8ZM1140,293.8 1143.8,286.2 1150,277.5 1160,265 1172.5,256.2 1190,250 1210,245 1221.2,243 1226.2,246.2 1223.8,251.2 1212.5,256.2 1197.5,261.2 1185,266.2 1175,272.5 1167.5,281.2 1162.5,290 1161.2,297.5 1165,302.5 1170,304.5 1160,306.2 1150,301.2 1143.8,297.5ZM1123.8,317.5 1128.8,314.5 1134.5,317.5 1131.2,321.2 1126.2,321.8ZM1110,203.8 1120,201.2 1130,202.5 1140,201.2 1136.2,206.2 1125,208.8 1115,207.5ZM1145,207.5 1155,205 1162.5,207.5 1155,210ZM1155,200 1165,196.2 1175,195 1185,198.8 1180,203.8 1170,205 1160,203.8ZM1162.5,208.8 1172.5,207.5 1180,208.8 1175,211.2 1165,210.8ZM1180,202.5 1190,201.2 1192.5,205 1185,206.2ZM1195,201.2 1202.5,198 1208.8,200 1205,203.8 1197.5,203.8ZM1172.5,190.5 1178.8,190 1177.5,192.5ZM1342.5,201.2 1350,197.5 1360,197 1367.5,202.5 1362.5,207.5 1355,210 1345,208.8 1337.5,207.5ZM1350,212.5 1362.5,210 1372.5,211.2 1378.8,216.2 1376.2,222.5 1367.5,224.5 1357.5,222.5 1351.2,218.8ZM1375,232.5 1385,218.8 1395,220 1403.8,226.2 1397.5,230 1385,232.5ZM1560,256.2 1570,252.5 1585,253.8 1597.5,256.2 1600,261.2 1592.5,266.2 1580,266.2 1567.5,263.8 1561.2,260.5ZM1575,271.2 1580,270 1583.8,273 1578.8,274.5ZM1580,276.2 1590,275 1597.5,280 1590,282 1582.5,280ZM1552.5,257 1555.5,256.2 1555,259.5ZM1609,258.8 1615,260 1612.5,263ZM1584.2,435.8 1586.7,434.2 1589.2,435 1590,441.7 1591.7,448.3 1594.2,456.7 1596.7,465 1595,468.3 1590.8,466.7 1590,473.3 1588.3,480 1585.8,483.3 1584.2,478.3 1584.2,470 1585,460 1584.2,450 1583.3,441.7ZM1606,495 1608.5,492.8 1609.2,493.5 1606.7,495.7ZM1611.8,490.5 1614.3,488.3 1615,489 1612.5,491.2ZM1617.7,485.8 1620.2,483.7 1620.8,484.3 1618.3,486.5ZM1623.5,480.8 1626,478.7 1626.7,479.3 1624.2,481.5ZM1629.3,475.8 1631.8,473.7 1632.5,474.3 1630,476.5ZM1635.2,470.8 1637.7,468.7 1638.3,469.3 1635.8,471.5ZM1640.5,465.8 1643,463.7 1643.7,464.3 1641.2,466.5ZM1645.5,461.7 1648,459.5 1648.7,460.2 1646.2,462.3ZM1650.2,457.8 1652.7,455.7 1653.3,456.3 1650.8,458.5Z" fill="#de0059" stroke="#401" stroke-width="0.45" stroke-linejoin="round"/>
<path d="M1041.2,480.2 1045,481.9 1046.9,486.2 1049.4,487.2 1052.5,488.5 1053.8,491.2 1056.2,492.5 1060,490.2 1065,490 1068.1,488.5 1071.9,487.8 1070,490 1073.8,492.5 1077.5,496.2 1081.2,499.4 1086.2,501.2 1089.4,503.8 1091.9,507.5 1092.2,510.6 1090,512.5 1085,513.8 1080,513.8 1075,513.1 1070,512.5 1065,511.2 1060,509.4 1055,508.5 1050,508.8 1045,510 1040,511.9 1036.2,513.1 1031.2,512.5 1027.5,511.2 1025,508.1 1024.4,503.8 1025.6,500 1028.8,496.2 1031.2,492.5 1033.8,488.8 1036.2,485 1038.8,481.9ZM1058.8,483.1 1062.5,480 1070,477.5 1077.5,474.4 1080,475.6 1077.5,477.5 1073.8,480 1071.2,483.8 1071.9,487.5 1068.1,488.5 1062.5,487.5 1060,485.6ZM1023.1,516.9 1026.9,515 1031.2,514.4 1035,513.8 1033.8,515.6 1029.4,516.5 1025,517.8ZM1397.7,447.7 1405,444.6 1411.2,441.5 1417.5,436.2 1421.7,430 1424.8,423.8 1426.9,420.6 1425.8,427.9 1422.7,434.2 1417.5,440.4 1411.2,444.6 1405,447.7 1399.8,449.2ZM1036.2,380 1041.2,377.5 1046.2,380 1048.8,385.5 1046.2,390.5 1040,391.2 1037,386.2Z" fill="#fff" stroke="#401" stroke-width="0.45" stroke-linejoin="round"/>
<path d="M918.8,480 921.2,476.9 925,475 930,473.8 935,475 938.1,478.1 936.2,481.2 932.5,482.5 928.8,481.9 925,483.8 921.2,483.1ZM968.8,476.2 971.2,473.1 976.2,471.9 982.5,471.2 988.8,470 995,469.4 998.1,471.2 996.2,475 993.8,478.8 991.2,481.9 986.2,483.1 981.2,483.8 976.2,484 971.9,481.9 969.4,479.4ZM981.2,484.4 986.2,483.5 990.6,485 993.1,490 995.6,493.1 997.5,497.5 996.9,501.9 994.4,505.6 991.9,508.5 988.1,507.5 986.9,503.8 987.5,500 983.8,498.8 982.5,495 981.9,490ZM1002.5,441.2 1004.4,436.2 1007.5,432.5 1013.1,430 1016.2,425 1021.2,422.5 1027.5,420.6 1032.5,421.2 1037.5,423.8 1041.2,428.8 1043.8,433.8 1046.2,437.5 1043.1,440 1041.2,445 1037.5,447.5 1031.2,448.1 1025,447.2 1018.8,447.5 1012.5,447.2 1007.5,448.1 1003.1,446.9Z" fill="#fff" stroke="#555" stroke-width="0.55" stroke-linejoin="round"/>
<path d="M440,638.7 450,638.7 450,644.2 450.8,650 453.3,649.2 450,653.3 447.5,657.5 444.2,658.3 439.2,657.5 435.3,655 435.3,650.8 437.5,647.5 442.5,647.5 441.7,644.2 440,641.7ZM536.7,665.8 538.3,667.5 535.8,670 532.5,673.3 530.8,678.3 531.7,683.3 532.5,688.3 535,691.7 540,693.3 545,695 550,696.7 555.8,696.3 556.7,701.7 555,706.7 556.7,711.7 557.5,716.7 553.3,717.5 548.3,719.2 545,722.5 546.7,726.7 547.5,731.7 546.7,736.7 545,742.5 541.7,747.5 542.5,741.7 540,737.5 535,738.3 530,737.5 525,734.2 521.7,730.8 517.5,727.5 511.7,725 506.7,722.5 500,720 502.5,715 506.7,711.7 508.3,706.7 507.5,700 506.7,695 505,690.8 508.3,688.3 511.7,683.3 515,678.3 518.3,674.2 523.3,672.5 528.3,671.7 531.7,669.2 534.2,666.3ZM488.3,748.3 490.8,744.7 494.2,743.7 496.3,748.3 500,750.5 501.3,746.3 505,741.7 510,738.3 515,735.8 517.5,731.7 519.2,728.3 521.7,730.8 525,734.2 530,737.5 535,738.3 540,737.5 542.5,741.7 541.7,747.5 544.2,746.7 538.3,749.2 532.5,751.7 528.3,756.7 525.8,762.5 526.7,767.5 530,771.7 535,775 540,775 540.8,780 546.7,782.5 549.2,788.3 548.3,795 546.7,801.7 548.3,808.3 546.7,813.3 544.2,817.5 541.7,817.5 536.7,813.3 530,808.3 523.3,804.2 518.3,800.8 513.3,796.7 511.7,791.7 508.3,785 505,778.3 501.7,771.7 498.3,765 494.2,759.2 490,755.8 488.3,751.7ZM622.5,699.2 627.5,700 632.5,703.3 635,705.8 632.5,710 630,714.2 626.7,716.7 621.7,715.8 620,712.5 621.7,708.3 620.3,703.3Z" fill="#11b6bf" stroke="#123" stroke-width="0.45" stroke-linejoin="round"/>
<path d="M904.4,448.1 909.1,450.9 912.8,453.7 916.6,456.6 918.4,460.3 921.2,463.1 925.9,465.9 925.9,470.6 925,474.4M906.2,447.2 910.9,448.1 915.6,449.1 917.5,450.9M921.2,436.9 920.3,442.5 918.4,447.2 917.5,450.9 918.4,455.6 918.4,460.3M932.5,432.2 936.2,432.2M956.9,432.2 958.7,438.7 959.7,444.4 960.2,450 959.7,452.3 955,453.7 950.3,456.6 947.5,458.4 951.2,464.1 955,467.8 952.2,471.6 945.6,473.4 940,475.3 936.2,474.4M959.7,452.3 964.4,454.7 969.1,456.6 973.7,459.4 978.4,461.2 974.7,464.1 970,465.9 964.4,465 959.7,466.9 955,467.8M970,465.9 970.9,469.7 968.1,474.4 968.1,478.1 964.4,480 959.7,480.9 954.1,480 949.4,480 945.6,478.1 940,477.2 937.2,478.1M978.4,461.2 983.1,462.2 987.8,461.2 992.5,462.2 998.1,464.1 997.2,466.9 992.5,467.8 987.8,468.7 983.1,470.6 977.5,471.6 971.9,470.6 970.9,469.7M998.1,464.1 1000.9,461.2 1004.7,455.6 1002.8,448.1 1004.7,443.4 1002.8,438.7 1000.9,430.3 999.1,429.4M998.1,464.1 1000,467.8 1004.7,470.6 1011.2,471.6 1018.7,469.7 1023.4,471.6 1028.1,476.2 1031.9,480 1033.7,483.7M1023.4,471.6 1020.6,469.7 1026.2,470.6 1030.9,475.3 1033.7,480 1033.7,483.7 1038.4,484.7M998.1,473.4 994.4,476.2 991.6,480.9 989.7,484.7 993.4,488.4 996.2,492.2 999.1,495 1004.7,496.9 1011.2,497.3 1018.7,495.9 1024.4,495 1028.1,494.1M999.1,495 1000,499.7 999.1,504.4 1000.9,509.1 1005.6,510 1011.2,510.9 1016.9,509.1 1020.6,507.2 1024.4,508.1M954.1,480 954.1,483.7 956.9,485.6 961.6,484.7 965.3,481.9 964.4,480M965.3,481.9 970,483.7 975.6,485.6 980.3,487.5 981.2,490.3 977.5,489.4 971.9,489.4 967.2,488.4 964.4,491.2 967.2,495.9 970.9,500.6 974.7,504.4 978.4,507.2M981.2,490.3 982.2,495 980.3,499.7 978.4,504.4 974.7,504.4M921.2,487.5 922.2,491.2 921.2,495 924.1,497.8M982.2,508.1 983.1,512.8 985,517.5 988.7,519.4M988.7,510.9 992.5,508.1 998.1,509.1 1000.9,509.1 1000,513.7 995.3,515.6 989.7,515.6 988.7,510.9M880,500.6 885.6,502.5 892.2,503.4 897.8,504.4 902.5,505.8M978.4,507.2 981.2,509.1 982.2,508.1 985,506.2 988.7,510.9M845,510 850,508.8 855.6,510 854.4,515 855,520 852.5,525 853.1,530 851.2,535M941.2,395 945,388.8 947.5,382.5 946.2,375 946.2,367.5 948.8,361.2 955,356.2 957.5,350 960,342.5 965,336.2 970,331.2 975,326.2 982.5,321.2 987.5,318.8 992.5,317.5 997.5,320 1003.8,321.2 1010,319.4 1015,315 1015,310 1018.8,305M1010,319.4 1017.5,321.2 1023.8,320 1030,316.2M1000,321.2 1003.8,328.8 1005,337.5 1005,345M1007.5,404.4 1012.5,405.6 1017.5,405 1022.5,406.2M991.2,418.8 997.5,417.5 1005,418.8 1011.2,417.5 1017.5,418.8 1023.8,417.5M1000,426.9 1003.8,428.8 1005,432.5 1007.5,432.5M1005,447.5 1012.5,446.9 1025,448.1 1037.5,448.8 1041.2,445.6 1047.5,444.4 1053.8,444.4M1023.1,513.8 1025,510 1028.8,510 1031.2,511.2M1090,512.5 1092.5,511.9 1096.2,511.9 1100,512.5 1105,513.1M850,426.9 852.5,429.4 856.2,428.8 858.8,426.9" fill="none" stroke="#0c5c66" stroke-width="0.5" stroke-linejoin="round" stroke-linecap="round"/>
<path d="M230.6,419.9 231,417.6 232.1,417.8 233.2,419.1 232,421 230.6,419.9M239.2,423.4 238.3,424.5 237.2,423.6 238.2,422.1 239.2,423.4M271.3,457.1 270.6,458.1 269.7,457.2 270.5,455.8 271.3,457.1M268.6,451.9 266.7,449.5 268.7,447.6 269.8,449.8 268.6,451.9M230.9,405.9 229.8,409.9 227.5,409.1 227.8,406.2 230.9,405.9M224.9,414.9 224.5,413.7 224.7,412.7 225.5,412.5 226,413.2 225.9,414.1 224.9,414.9M232.7,418.4 231.4,421.5 229.8,420.7 230.1,417.3 232.7,418.4M255.7,444.3 256.8,444 257,445.8 255.4,445.9 255.7,444.3M245.6,439.4 244.9,437.3 246,435.4 246.9,436.9 247.1,439 245.6,439.4M252.4,445.2 252.8,443 254.3,443 255.5,445 253.7,446.8 252.4,445.2M254.6,442 255.1,443.2 254.2,444 253.7,442.6 254.6,442M270.2,451 270.6,452.8 269.3,453.6 268.8,451.9 270.2,451M235.6,423.3 235.9,425.6 234.7,427.9 233.5,425.8 233.4,423.9 235.6,423.3M238.5,425.6 236.6,424.6 236.7,421.2 238.8,421.8 238.5,425.6M244.8,430.3 243.8,427.9 245.5,426.9 246.1,428.6 244.8,430.3M259.4,448.8 258.1,450.3 257.1,448.5 258.3,447.3 259.4,448.8M244.5,430.3 245.1,429.3 246.2,429.8 245.4,430.9 244.5,430.3M265.2,449.5 264.5,452.7 262.2,451.6 262.9,448.4 265.2,449.5M235.2,415.2 236.4,417.5 235.5,420.1 233.8,419.6 232.9,418.3 233.5,416.1 235.2,415.2M214.2,397.1 211.5,396.7 211.9,393.3 214.4,394.4 214.2,397.1M262.2,445.5 262.7,446.3 262.5,447.2 261.7,447.7 261.2,446.7 261.1,445.1 262.2,445.5M236.9,422.7 235.3,423.1 234.6,421 235.7,418.3 237.6,420.1 236.9,422.7M248.5,435.8 248.1,434.2 248.3,432.6 249.5,432.4 250.5,433.7 250,435 248.5,435.8M240,428.5 238.8,429.8 237,428.2 237.7,425.7 240.2,425.6 240,428.5M229.2,411.1 230.6,411.1 230.7,413.1 229.4,413.2 229.2,411.1M225.7,413.3 226.7,412.8 227.9,413.4 227.8,415.1 226.7,415.9 225.6,415 225.7,413.3M252.7,436.4 253.6,438.7 252,439.8 250.8,437.9 252.7,436.4M222.3,402.5 222.8,404.3 221.7,405.7 220.2,406.3 218.9,404.1 220.3,401.3 222.3,402.5M269.8,454.1 269.1,452.3 270.6,451.7 271.6,452.5 271.2,454.4 269.8,454.1M235.4,419.4 235.7,421 234.5,422 233.7,421.4 233.6,419.8 234.3,419 235.4,419.4M270.4,453.9 271,455.4 270.4,456.3 269.4,456 269.4,454.4 270.4,453.9M221.7,402.9 221,404.9 219.5,404.8 219.7,401.4 221.7,402.9M263.9,453.4 263.2,453.3 262.6,452.8 262.5,451.4 263.6,451.5 263.9,452 263.9,453.4M234.7,425.4 233.7,423.5 234.9,422.3 235.5,423.8 234.7,425.4M266.7,457.3 265.7,455.9 266.6,454.6 267.3,455.9 266.7,457.3M254.9,444.7 256.4,445.1 256.7,447 255.3,448.2 254.2,448.2 253.9,445.7 254.9,444.7M217.6,393.3 216.9,393.8 216.1,393.4 216,392.2 216.7,391.2 217.5,391.6 217.6,393.3M211.1,392.3 212,390.1 213.2,389.4 214.9,390.7 214.5,392.8 212.7,393.5 211.1,392.3M236,417.3 237.4,416.6 238.8,418 237.6,419.9 236.2,419.6 236,417.3M246.4,432.4 246.2,431 247.6,431.2 247.5,432.6 246.4,432.4M267.4,457.4 266,455.3 266.9,452.6 269.1,454.7 267.4,457.4M231.9,420.4 233.2,420.2 233.8,421.6 232.9,422.5 231.8,422.4 231.2,421.2 231.9,420.4M217.2,396.5 215.6,396.7 215.3,394.6 216.5,393.4 217.9,394.5 217.2,396.5M260,453.9 258.6,451.6 259.3,450 260.7,449.4 262.2,450.4 261.1,452.9 260,453.9M259.1,444.6 258,445.4 257,444.7 257.1,443.2 258.1,442.4 258.8,443.3 259.1,444.6" fill="none" stroke="#0b4a52" stroke-width="0.45" stroke-linejoin="round" stroke-linecap="round"/>
</g>
<g id="boxes"><rect x="685.2" y="402.2" width="59.6" height="33.5" fill="#11b6bf"/><text x="698.9" y="426.6" font-size="16.2" fill="#f2fdfd" textLength="29.5" lengthAdjust="spacingAndGlyphs">Lux.</text><rect x="749.2" y="399.8" width="59.7" height="35.9" fill="#11b6bf"/><text x="757.2" y="423.9" font-size="16.2" fill="#f2fdfd" textLength="42.3" lengthAdjust="spacingAndGlyphs">Mont.</text><rect x="685.2" y="440.7" width="59.6" height="36" fill="#11b6bf"/><text x="693.5" y="464.9" font-size="16.2" fill="#f2fdfd" textLength="40.3" lengthAdjust="spacingAndGlyphs">Mold.</text><rect x="749.2" y="442" width="59.7" height="35.6" fill="#11b6bf"/><text x="757.2" y="465.8" font-size="16.2" fill="#f2fdfd" textLength="30.2" lengthAdjust="spacingAndGlyphs">Mal.</text><rect x="685.2" y="483" width="59.6" height="35.6" fill="#11b6bf"/><text x="692.8" y="506.5" font-size="16.2" fill="#f2fdfd" textLength="32.9" lengthAdjust="spacingAndGlyphs">And.</text><rect x="749.2" y="483.7" width="59.7" height="33.3" fill="#11b6bf"/><text x="758.6" y="506.5" font-size="16.2" fill="#f2fdfd" textLength="30.2" lengthAdjust="spacingAndGlyphs">Zyp.</text></g>
<rect x="1609" y="150" width="311" height="900" fill="#fff" fill-opacity="0.61"/>
<g fill="#0e4f8d">
<polygon points="1623.3,55.7 1685.3,55.7 1647.4,123.9 1623.3,123.9"/>
<polygon points="1691.6,71.8 1691.6,99.1 1676.9,99.1"/>
<polygon points="1670,111.2 1691.6,111.2 1691.6,123.9 1662.7,123.9"/>
</g>
<rect x="68.3" y="843.3" width="22.4" height="22" fill="#11b6bf" stroke="#333" stroke-width="0.7"/>
<rect x="68.3" y="874.3" width="22.4" height="22" fill="#de0059" stroke="#333" stroke-width="0.7"/>
<rect x="1617.3" y="964.64" width="36" height="1.4" fill="#111"/>
<g id="txt" style="will-change:opacity;opacity:0.999">
<text x="87.5" y="100.3" font-size="38.8" font-weight="bold" font-style="normal" fill="#0b4a8b" textLength="254" lengthAdjust="spacingAndGlyphs" stroke="#0b4a8b" stroke-width="0.35">Co-Sponsoren</text>
<text x="355" y="100.3" font-size="38.8" font-weight="bold" font-style="normal" fill="#0b4a8b" textLength="66" lengthAdjust="spacingAndGlyphs" stroke="#0b4a8b" stroke-width="0.35">der</text>
<text x="435" y="100.3" font-size="38.8" font-weight="bold" font-style="normal" fill="#0b4a8b" textLength="56" lengthAdjust="spacingAndGlyphs" stroke="#0b4a8b" stroke-width="0.35">bei</text>
<text x="504" y="100.3" font-size="38.8" font-weight="bold" font-style="normal" fill="#0b4a8b" textLength="66" lengthAdjust="spacingAndGlyphs" stroke="#0b4a8b" stroke-width="0.35">der</text>
<text x="584" y="100.3" font-size="38.8" font-weight="bold" font-style="normal" fill="#0b4a8b" textLength="56" lengthAdjust="spacingAndGlyphs" stroke="#0b4a8b" stroke-width="0.35">75.</text>
<text x="654" y="100.3" font-size="38.8" font-weight="bold" font-style="normal" fill="#0b4a8b" textLength="557" lengthAdjust="spacingAndGlyphs" stroke="#0b4a8b" stroke-width="0.35">Weltgesundheitsversammlung</text>
<text x="1225" y="100.3" font-size="38.8" font-weight="bold" font-style="normal" fill="#0b4a8b" textLength="270.5" lengthAdjust="spacingAndGlyphs" stroke="#0b4a8b" stroke-width="0.35">eingebrachten</text>
<text x="89" y="152.6" font-size="38.8" font-weight="bold" font-style="normal" fill="#0b4a8b" textLength="243.5" lengthAdjust="spacingAndGlyphs" stroke="#0b4a8b" stroke-width="0.35">Resolutionen</text>
<text x="346.5" y="152.6" font-size="38.8" font-weight="bold" font-style="normal" fill="#0b4a8b" textLength="81" lengthAdjust="spacingAndGlyphs" stroke="#0b4a8b" stroke-width="0.35">zum</text>
<text x="442.5" y="152.6" font-size="38.8" font-weight="bold" font-style="normal" fill="#0b4a8b" textLength="400" lengthAdjust="spacingAndGlyphs" stroke="#0b4a8b" stroke-width="0.35">Gesundheitsnotstand</text>
<text x="857.5" y="152.6" font-size="38.8" font-weight="bold" font-style="normal" fill="#0b4a8b" textLength="32.5" lengthAdjust="spacingAndGlyphs" stroke="#0b4a8b" stroke-width="0.35">in</text>
<text x="905" y="152.6" font-size="38.8" font-weight="bold" font-style="normal" fill="#0b4a8b" textLength="65" lengthAdjust="spacingAndGlyphs" stroke="#0b4a8b" stroke-width="0.35">der</text>
<text x="985" y="152.6" font-size="38.8" font-weight="bold" font-style="normal" fill="#0b4a8b" textLength="141" lengthAdjust="spacingAndGlyphs" stroke="#0b4a8b" stroke-width="0.35">Ukraine</text>
<text x="1617" y="183.2" font-size="27.7" font-weight="bold" font-style="italic" fill="#000" textLength="68.8" lengthAdjust="spacingAndGlyphs">Karte</text>
<text x="1697.3" y="183.2" font-size="27.7" font-weight="bold" font-style="italic" fill="#000" textLength="42.5" lengthAdjust="spacingAndGlyphs">des</text>
<text x="1749.5" y="183.2" font-size="27.7" font-weight="bold" font-style="italic" fill="#000" textLength="97.5" lengthAdjust="spacingAndGlyphs">Monats</text>
<text x="1617" y="220.6" font-size="27.7" font-weight="bold" font-style="italic" fill="#000" textLength="48.3" lengthAdjust="spacingAndGlyphs">Mai</text>
<text x="1672.7" y="220.6" font-size="27.7" font-weight="bold" font-style="italic" fill="#000" textLength="61.1" lengthAdjust="spacingAndGlyphs">2022</text>
<text x="1616.6" y="277.6" font-size="22" font-weight="normal" font-style="normal" fill="#111" textLength="207" lengthAdjust="spacingAndGlyphs">Die vorliegende Karte</text>
<text x="1616.6" y="305.73" font-size="22" font-weight="normal" font-style="normal" fill="#111" textLength="262.7" lengthAdjust="spacingAndGlyphs">illustriert die Co-Sponsoren</text>
<text x="1616.6" y="333.86" font-size="22" font-weight="normal" font-style="normal" fill="#111" textLength="232.7" lengthAdjust="spacingAndGlyphs">zweier Resolutionen der</text>
<text x="1616.6" y="361.99" font-size="22" font-weight="normal" font-style="normal" fill="#111" textLength="231.6" lengthAdjust="spacingAndGlyphs">75. Weltgesundheitsver-</text>
<text x="1616.6" y="390.12" font-size="22" font-weight="normal" font-style="normal" fill="#111" textLength="222.1" lengthAdjust="spacingAndGlyphs">sammlung, die sich mit</text>
<text x="1616.6" y="418.25" font-size="22" font-weight="normal" font-style="normal" fill="#111" textLength="256.3" lengthAdjust="spacingAndGlyphs">dem Gesundheitsnotstand</text>
<text x="1616.6" y="446.38" font-size="22" font-weight="normal" font-style="normal" fill="#111" textLength="262.6" lengthAdjust="spacingAndGlyphs">in der Ukraine sowie in den</text>
<text x="1616.6" y="474.51" font-size="22" font-weight="normal" font-style="normal" fill="#111" textLength="208" lengthAdjust="spacingAndGlyphs">Flüchtlingsaufnahme-</text>
<text x="1616.6" y="502.64" font-size="22" font-weight="normal" font-style="normal" fill="#111" textLength="178.8" lengthAdjust="spacingAndGlyphs">ländern befassten.</text>
<text x="1616.6" y="549.3" font-size="22" font-weight="normal" font-style="normal" fill="#111" textLength="255.6" lengthAdjust="spacingAndGlyphs">Die ukrainische Resolution</text>
<text x="1616.6" y="577.43" font-size="22" font-weight="normal" font-style="normal" fill="#111" textLength="254.1" lengthAdjust="spacingAndGlyphs">verurteilt u.a. deutlich den</text>
<text x="1616.6" y="605.56" font-size="22" font-weight="normal" font-style="normal" fill="#111" textLength="212.6" lengthAdjust="spacingAndGlyphs">Aggressor und fordert</text>
<text x="1616.6" y="633.69" font-size="22" font-weight="normal" font-style="normal" fill="#111" textLength="252.7" lengthAdjust="spacingAndGlyphs">Russland auf, die Attacken</text>
<text x="1616.6" y="661.82" font-size="22" font-weight="normal" font-style="normal" fill="#111" textLength="238" lengthAdjust="spacingAndGlyphs">auf Gesundheitseinricht-</text>
<text x="1616.6" y="689.95" font-size="22" font-weight="normal" font-style="normal" fill="#111" textLength="186.9" lengthAdjust="spacingAndGlyphs">ungen einzustellen.</text>
<text x="1616.6" y="736.8" font-size="22" font-weight="normal" font-style="normal" fill="#111" textLength="235.1" lengthAdjust="spacingAndGlyphs">Die russische Resolution</text>
<text x="1616.6" y="764.93" font-size="22" font-weight="normal" font-style="normal" fill="#111" textLength="265.4" lengthAdjust="spacingAndGlyphs">(nur unterstützt von Syrien)</text>
<text x="1616.6" y="793.06" font-size="22" font-weight="normal" font-style="normal" fill="#111" textLength="257.3" lengthAdjust="spacingAndGlyphs">enthält keine Bezugnahme</text>
<text x="1616.6" y="821.19" font-size="22" font-weight="normal" font-style="normal" fill="#111" textLength="243.9" lengthAdjust="spacingAndGlyphs">zum Urheber des Krieges</text>
<text x="1616.6" y="849.32" font-size="22" font-weight="normal" font-style="normal" fill="#111" textLength="202.8" lengthAdjust="spacingAndGlyphs">und der Attacken auf</text>
<text x="1616.6" y="877.45" font-size="22" font-weight="normal" font-style="normal" fill="#111" textLength="247.8" lengthAdjust="spacingAndGlyphs">Gesundheitsinfrastruktur.</text>
<text x="1616.6" y="905.58" font-size="22" font-weight="normal" font-style="normal" fill="#111" textLength="267.9" lengthAdjust="spacingAndGlyphs">Stattdessen verweist sie auf</text>
<text x="1616.6" y="933.71" font-size="22" font-weight="normal" font-style="normal" fill="#111" textLength="266.1" lengthAdjust="spacingAndGlyphs">die humanitäre Lage "in der</text>
<text x="1616.6" y="961.84" font-size="22" font-weight="normal" font-style="normal" fill="#111" textLength="241.4" lengthAdjust="spacingAndGlyphs">und um die Ukraine" und</text>
<text x="1616.6" y="989.97" font-size="22" font-weight="normal" font-style="normal" fill="#111" textLength="252" lengthAdjust="spacingAndGlyphs">verwischt die Grenzen der</text>
<text x="1616.6" y="1018.1" font-size="22" font-weight="normal" font-style="normal" fill="#111" textLength="246.7" lengthAdjust="spacingAndGlyphs">Opfer des Angriffskrieges.</text>
<text x="105.7" y="864.1" font-size="21" font-weight="normal" font-style="normal" fill="#111" textLength="396" lengthAdjust="spacingAndGlyphs">Co-Sponsoren der ukrainischen Resolution</text>
<text x="105.7" y="893.5" font-size="21" font-weight="normal" font-style="normal" fill="#111" textLength="376" lengthAdjust="spacingAndGlyphs">Co-Sponsoren der russischen Resolution</text>
<text x="68.3" y="1040" font-size="17.2" font-weight="normal" font-style="normal" fill="#111" textLength="61.2" lengthAdjust="spacingAndGlyphs">Quellen:</text>
<text x="135" y="1040" font-size="17.2" font-weight="normal" font-style="normal" fill="#2563b4" textLength="515" lengthAdjust="spacingAndGlyphs" text-decoration="underline">https://apps.who.int/gb/ebwha/pdf_files/WHA75/A75_ACONF6-en.pdf</text>
<text x="650.5" y="1040" font-size="17.2" font-weight="normal" font-style="normal" fill="#111">,</text>
<text x="68.3" y="1062.3" font-size="17.2" font-weight="normal" font-style="normal" fill="#2563b4" textLength="515.7" lengthAdjust="spacingAndGlyphs" text-decoration="underline">https://apps.who.int/gb/ebwha/pdf_files/WHA75/A75_ACONF8-en.pdf</text>
<text x="756" y="1053.4" font-size="21.4" font-weight="normal" font-style="normal" fill="#111" textLength="520" lengthAdjust="spacingAndGlyphs">Erstellt von: Lindgard Buder, Olaf Wientzek, Rosa Seidler</text>
<text x="1634.6" y="1070.3" font-size="8" font-weight="bold" font-style="normal" fill="#222" textLength="96.8" lengthAdjust="spacingAndGlyphs">Created with mapchart.net</text>
<text x="1706.5" y="73.4" font-size="22.6" font-weight="normal" font-style="normal" fill="#1a1a1a" textLength="104" lengthAdjust="spacingAndGlyphs">KONRAD</text>
<text x="1706.5" y="98.5" font-size="24.4" font-weight="bold" font-style="normal" fill="#1a1a1a" textLength="140" lengthAdjust="spacingAndGlyphs" stroke="#1a1a1a" stroke-width="0.5">ADENAUER</text>
<text x="1707" y="123.6" font-size="24.4" font-weight="bold" font-style="normal" fill="#1a1a1a" textLength="125" lengthAdjust="spacingAndGlyphs" stroke="#1a1a1a" stroke-width="0.5">STIFTUNG</text>
</g>
</svg>
</body></html>
